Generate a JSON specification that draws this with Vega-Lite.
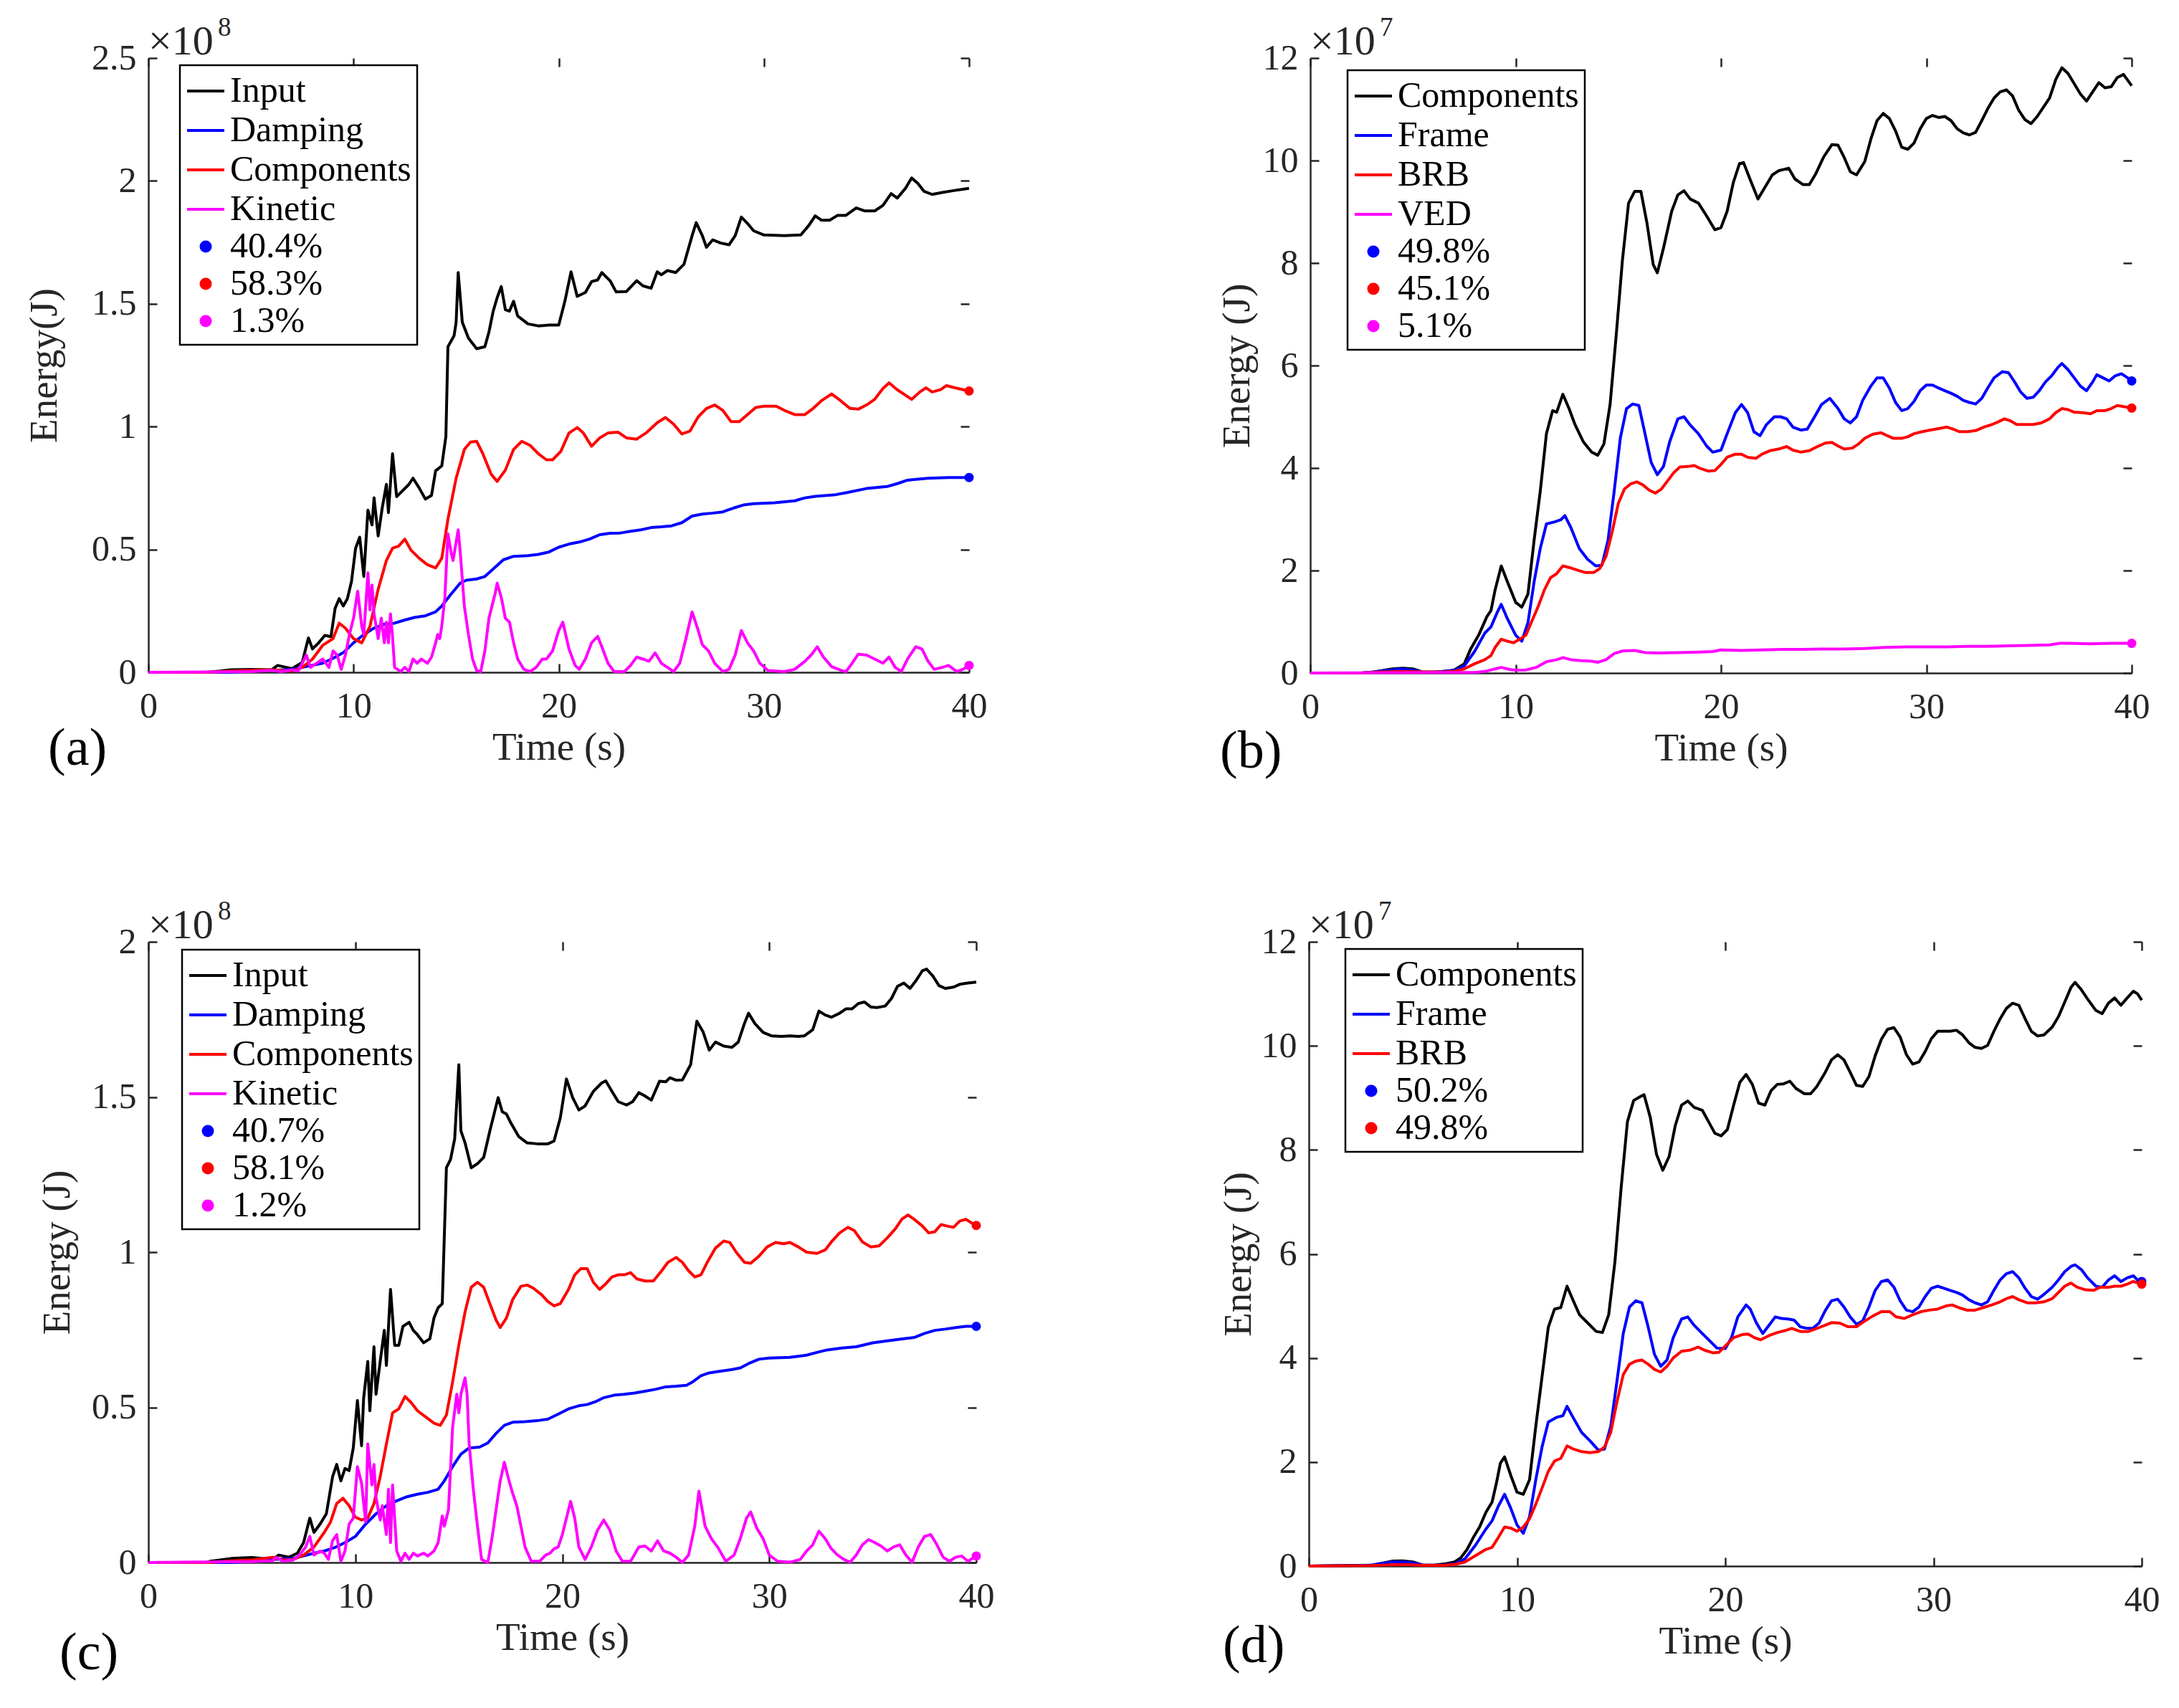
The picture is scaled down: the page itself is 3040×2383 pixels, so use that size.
{
"$schema": "https://vega.github.io/schema/vega-lite/v6.json",
"background": "white",
"padding": {"left": 34, "top": 20, "right": 10, "bottom": 10},
"spacing": 167,
"config": {
 "view": {"stroke": null},
 "font": "Liberation Serif",
 "axis": {"grid": false, "domainColor": "#262626", "domainWidth": 2.5, "gridColor": "#262626", "gridWidth": 2.5, "gridOpacity": 1, "labelFont": "Liberation Serif", "labelFontSize": 50, "labelColor": "#262626", "titleFont": "Liberation Serif", "titleFontSize": 55, "titleFontWeight": "normal", "titleColor": "#262626", "labelOverlap": false, "labelFlush": false, "labelBound": false, "ticks": false},
 "axisBottom": {"labelPadding": 22, "titlePadding": 6},
 "axisLeft": {"labelPadding": 17},
 "legend": {"labelFont": "Liberation Serif", "labelFontSize": 50, "labelColor": "black", "strokeColor": "black", "strokeWidth": 2.5, "fillColor": "white", "padding": 8, "symbolStrokeWidth": 4, "labelOffset": 6, "rowPadding": 2, "labelLimit": 0}
},
"resolve": {"scale": {"x": "independent", "y": "independent", "color": "independent", "shape": "independent", "size": "independent"}, "legend": {"color": "independent", "shape": "independent", "size": "independent"}},
"datasets": {
"aL": [
{"s":"Input","t":0,"v":0},{"s":"Input","t":2.8,"v":0},{"s":"Input","t":3.5,"v":0.005},{"s":"Input","t":4,"v":0.01},{"s":"Input","t":5,"v":0.012},{"s":"Input","t":6,"v":0.01},{"s":"Input","t":6.3,"v":0.028},{"s":"Input","t":7,"v":0.015},{"s":"Input","t":7.5,"v":0.04},{"s":"Input","t":7.8,"v":0.14},{"s":"Input","t":8,"v":0.095},{"s":"Input","t":8.3,"v":0.12},{"s":"Input","t":8.6,"v":0.15},{"s":"Input","t":8.9,"v":0.145},{"s":"Input","t":9.1,"v":0.26},{"s":"Input","t":9.3,"v":0.3},{"s":"Input","t":9.5,"v":0.27},{"s":"Input","t":9.7,"v":0.3},{"s":"Input","t":9.9,"v":0.37},{"s":"Input","t":10.1,"v":0.505},{"s":"Input","t":10.3,"v":0.55},{"s":"Input","t":10.5,"v":0.39},{"s":"Input","t":10.7,"v":0.66},{"s":"Input","t":10.9,"v":0.6},{"s":"Input","t":11,"v":0.71},{"s":"Input","t":11.2,"v":0.555},{"s":"Input","t":11.4,"v":0.67},{"s":"Input","t":11.6,"v":0.765},{"s":"Input","t":11.7,"v":0.65},{"s":"Input","t":11.9,"v":0.89},{"s":"Input","t":12.1,"v":0.715},{"s":"Input","t":12.4,"v":0.74},{"s":"Input","t":12.7,"v":0.765},{"s":"Input","t":12.9,"v":0.79},{"s":"Input","t":13.2,"v":0.75},{"s":"Input","t":13.5,"v":0.705},{"s":"Input","t":13.8,"v":0.72},{"s":"Input","t":14,"v":0.82},{"s":"Input","t":14.3,"v":0.84},{"s":"Input","t":14.5,"v":0.96},{"s":"Input","t":14.6,"v":1.325},{"s":"Input","t":14.9,"v":1.37},{"s":"Input","t":15,"v":1.425},{"s":"Input","t":15.1,"v":1.627},{"s":"Input","t":15.3,"v":1.425},{"s":"Input","t":15.6,"v":1.36},{"s":"Input","t":16,"v":1.317},{"s":"Input","t":16.4,"v":1.325},{"s":"Input","t":16.6,"v":1.385},{"s":"Input","t":16.8,"v":1.468},{"s":"Input","t":17,"v":1.525},{"s":"Input","t":17.2,"v":1.57},{"s":"Input","t":17.4,"v":1.476},{"s":"Input","t":17.6,"v":1.47},{"s":"Input","t":17.8,"v":1.51},{"s":"Input","t":18,"v":1.45},{"s":"Input","t":18.5,"v":1.418},{"s":"Input","t":19,"v":1.41},{"s":"Input","t":19.5,"v":1.413},{"s":"Input","t":20,"v":1.413},{"s":"Input","t":20.3,"v":1.51},{"s":"Input","t":20.6,"v":1.63},{"s":"Input","t":20.9,"v":1.53},{"s":"Input","t":21.3,"v":1.546},{"s":"Input","t":21.6,"v":1.59},{"s":"Input","t":21.9,"v":1.597},{"s":"Input","t":22.1,"v":1.627},{"s":"Input","t":22.5,"v":1.594},{"s":"Input","t":22.8,"v":1.548},{"s":"Input","t":23.3,"v":1.55},{"s":"Input","t":23.8,"v":1.594},{"s":"Input","t":24.1,"v":1.573},{"s":"Input","t":24.5,"v":1.563},{"s":"Input","t":24.8,"v":1.63},{"s":"Input","t":25,"v":1.618},{"s":"Input","t":25.3,"v":1.635},{"s":"Input","t":25.7,"v":1.627},{"s":"Input","t":26.1,"v":1.66},{"s":"Input","t":26.5,"v":1.777},{"s":"Input","t":26.7,"v":1.83},{"s":"Input","t":27,"v":1.777},{"s":"Input","t":27.2,"v":1.73},{"s":"Input","t":27.5,"v":1.76},{"s":"Input","t":27.9,"v":1.747},{"s":"Input","t":28.3,"v":1.74},{"s":"Input","t":28.6,"v":1.777},{"s":"Input","t":28.9,"v":1.853},{"s":"Input","t":29.2,"v":1.827},{"s":"Input","t":29.5,"v":1.797},{"s":"Input","t":30,"v":1.78},{"s":"Input","t":31,"v":1.777},{"s":"Input","t":31.8,"v":1.78},{"s":"Input","t":32.2,"v":1.82},{"s":"Input","t":32.5,"v":1.858},{"s":"Input","t":32.8,"v":1.84},{"s":"Input","t":33.2,"v":1.84},{"s":"Input","t":33.6,"v":1.86},{"s":"Input","t":34,"v":1.86},{"s":"Input","t":34.5,"v":1.89},{"s":"Input","t":34.9,"v":1.878},{"s":"Input","t":35.4,"v":1.878},{"s":"Input","t":35.8,"v":1.9},{"s":"Input","t":36.2,"v":1.948},{"s":"Input","t":36.5,"v":1.93},{"s":"Input","t":36.9,"v":1.97},{"s":"Input","t":37.2,"v":2.012},{"s":"Input","t":37.5,"v":1.99},{"s":"Input","t":37.8,"v":1.958},{"s":"Input","t":38.2,"v":1.945},{"s":"Input","t":38.7,"v":1.953},{"s":"Input","t":39.2,"v":1.96},{"s":"Input","t":40,"v":1.97},
{"s":"Damping","t":0,"v":0},{"s":"Damping","t":4,"v":0},{"s":"Damping","t":5,"v":0.005},{"s":"Damping","t":6,"v":0.008},{"s":"Damping","t":7,"v":0.012},{"s":"Damping","t":7.5,"v":0.02},{"s":"Damping","t":8.5,"v":0.037},{"s":"Damping","t":9,"v":0.057},{"s":"Damping","t":9.5,"v":0.08},{"s":"Damping","t":10,"v":0.12},{"s":"Damping","t":10.5,"v":0.154},{"s":"Damping","t":11,"v":0.18},{"s":"Damping","t":11.5,"v":0.196},{"s":"Damping","t":12,"v":0.2},{"s":"Damping","t":12.5,"v":0.213},{"s":"Damping","t":13,"v":0.224},{"s":"Damping","t":13.5,"v":0.23},{"s":"Damping","t":14,"v":0.246},{"s":"Damping","t":14.3,"v":0.27},{"s":"Damping","t":14.7,"v":0.313},{"s":"Damping","t":15.2,"v":0.363},{"s":"Damping","t":15.5,"v":0.375},{"s":"Damping","t":16,"v":0.38},{"s":"Damping","t":16.4,"v":0.39},{"s":"Damping","t":16.8,"v":0.42},{"s":"Damping","t":17.3,"v":0.458},{"s":"Damping","t":17.8,"v":0.472},{"s":"Damping","t":18.5,"v":0.475},{"s":"Damping","t":19,"v":0.48},{"s":"Damping","t":19.5,"v":0.489},{"s":"Damping","t":20,"v":0.509},{"s":"Damping","t":20.5,"v":0.522},{"s":"Damping","t":21,"v":0.53},{"s":"Damping","t":21.5,"v":0.542},{"s":"Damping","t":22,"v":0.56},{"s":"Damping","t":22.5,"v":0.566},{"s":"Damping","t":23,"v":0.567},{"s":"Damping","t":23.5,"v":0.574},{"s":"Damping","t":24,"v":0.58},{"s":"Damping","t":24.5,"v":0.589},{"s":"Damping","t":25,"v":0.592},{"s":"Damping","t":25.5,"v":0.596},{"s":"Damping","t":26,"v":0.609},{"s":"Damping","t":26.5,"v":0.636},{"s":"Damping","t":27,"v":0.644},{"s":"Damping","t":27.5,"v":0.648},{"s":"Damping","t":28,"v":0.653},{"s":"Damping","t":28.5,"v":0.668},{"s":"Damping","t":29,"v":0.681},{"s":"Damping","t":29.5,"v":0.686},{"s":"Damping","t":30.5,"v":0.69},{"s":"Damping","t":31.5,"v":0.698},{"s":"Damping","t":32,"v":0.71},{"s":"Damping","t":32.5,"v":0.716},{"s":"Damping","t":33.5,"v":0.723},{"s":"Damping","t":34,"v":0.731},{"s":"Damping","t":35,"v":0.748},{"s":"Damping","t":36,"v":0.756},{"s":"Damping","t":36.5,"v":0.768},{"s":"Damping","t":37,"v":0.782},{"s":"Damping","t":38,"v":0.79},{"s":"Damping","t":39,"v":0.793},{"s":"Damping","t":40,"v":0.793},
{"s":"Components","t":0,"v":0},{"s":"Components","t":3,"v":0},{"s":"Components","t":4,"v":0.005},{"s":"Components","t":5,"v":0.008},{"s":"Components","t":6,"v":0.01},{"s":"Components","t":7,"v":0.005},{"s":"Components","t":7.5,"v":0.02},{"s":"Components","t":8,"v":0.054},{"s":"Components","t":8.5,"v":0.11},{"s":"Components","t":9,"v":0.137},{"s":"Components","t":9.3,"v":0.2},{"s":"Components","t":9.6,"v":0.18},{"s":"Components","t":10,"v":0.137},{"s":"Components","t":10.4,"v":0.12},{"s":"Components","t":10.8,"v":0.187},{"s":"Components","t":11.2,"v":0.338},{"s":"Components","t":11.6,"v":0.455},{"s":"Components","t":11.9,"v":0.505},{"s":"Components","t":12.2,"v":0.514},{"s":"Components","t":12.5,"v":0.542},{"s":"Components","t":12.8,"v":0.497},{"s":"Components","t":13.2,"v":0.464},{"s":"Components","t":13.6,"v":0.438},{"s":"Components","t":14,"v":0.425},{"s":"Components","t":14.3,"v":0.464},{"s":"Components","t":14.6,"v":0.623},{"s":"Components","t":15,"v":0.79},{"s":"Components","t":15.4,"v":0.907},{"s":"Components","t":15.7,"v":0.937},{"s":"Components","t":16,"v":0.94},{"s":"Components","t":16.3,"v":0.89},{"s":"Components","t":16.7,"v":0.807},{"s":"Components","t":17,"v":0.777},{"s":"Components","t":17.4,"v":0.823},{"s":"Components","t":17.8,"v":0.907},{"s":"Components","t":18.2,"v":0.94},{"s":"Components","t":18.6,"v":0.924},{"s":"Components","t":19,"v":0.89},{"s":"Components","t":19.4,"v":0.865},{"s":"Components","t":19.7,"v":0.865},{"s":"Components","t":20.1,"v":0.899},{"s":"Components","t":20.5,"v":0.974},{"s":"Components","t":20.9,"v":0.996},{"s":"Components","t":21.2,"v":0.974},{"s":"Components","t":21.6,"v":0.92},{"s":"Components","t":22,"v":0.954},{"s":"Components","t":22.4,"v":0.974},{"s":"Components","t":22.9,"v":0.977},{"s":"Components","t":23.3,"v":0.954},{"s":"Components","t":23.8,"v":0.949},{"s":"Components","t":24.3,"v":0.977},{"s":"Components","t":24.8,"v":1.016},{"s":"Components","t":25.2,"v":1.037},{"s":"Components","t":25.6,"v":1.01},{"s":"Components","t":26,"v":0.97},{"s":"Components","t":26.4,"v":0.982},{"s":"Components","t":26.8,"v":1.04},{"s":"Components","t":27.2,"v":1.074},{"s":"Components","t":27.6,"v":1.088},{"s":"Components","t":28,"v":1.066},{"s":"Components","t":28.4,"v":1.02},{"s":"Components","t":28.8,"v":1.02},{"s":"Components","t":29.2,"v":1.049},{"s":"Components","t":29.6,"v":1.078},{"s":"Components","t":30,"v":1.083},{"s":"Components","t":30.6,"v":1.083},{"s":"Components","t":31,"v":1.066},{"s":"Components","t":31.5,"v":1.049},{"s":"Components","t":32,"v":1.049},{"s":"Components","t":32.4,"v":1.074},{"s":"Components","t":32.8,"v":1.105},{"s":"Components","t":33.3,"v":1.133},{"s":"Components","t":33.7,"v":1.108},{"s":"Components","t":34.2,"v":1.074},{"s":"Components","t":34.6,"v":1.071},{"s":"Components","t":35,"v":1.088},{"s":"Components","t":35.4,"v":1.111},{"s":"Components","t":35.8,"v":1.155},{"s":"Components","t":36.1,"v":1.178},{"s":"Components","t":36.5,"v":1.15},{"s":"Components","t":36.9,"v":1.128},{"s":"Components","t":37.2,"v":1.111},{"s":"Components","t":37.6,"v":1.141},{"s":"Components","t":37.9,"v":1.158},{"s":"Components","t":38.2,"v":1.141},{"s":"Components","t":38.6,"v":1.15},{"s":"Components","t":38.9,"v":1.167},{"s":"Components","t":39.3,"v":1.158},{"s":"Components","t":40,"v":1.145},
{"s":"Kinetic","t":0,"v":0},{"s":"Kinetic","t":5,"v":0.003},{"s":"Kinetic","t":6,"v":0.008},{"s":"Kinetic","t":6.5,"v":0.003},{"s":"Kinetic","t":7,"v":0.01},{"s":"Kinetic","t":7.3,"v":0.005},{"s":"Kinetic","t":7.7,"v":0.07},{"s":"Kinetic","t":7.9,"v":0.02},{"s":"Kinetic","t":8.2,"v":0.037},{"s":"Kinetic","t":8.5,"v":0.054},{"s":"Kinetic","t":8.8,"v":0.02},{"s":"Kinetic","t":9,"v":0.087},{"s":"Kinetic","t":9.2,"v":0.07},{"s":"Kinetic","t":9.4,"v":0.012},{"s":"Kinetic","t":9.6,"v":0.07},{"s":"Kinetic","t":9.8,"v":0.154},{"s":"Kinetic","t":10,"v":0.22},{"s":"Kinetic","t":10.2,"v":0.33},{"s":"Kinetic","t":10.4,"v":0.187},{"s":"Kinetic","t":10.5,"v":0.154},{"s":"Kinetic","t":10.7,"v":0.405},{"s":"Kinetic","t":10.8,"v":0.254},{"s":"Kinetic","t":10.9,"v":0.355},{"s":"Kinetic","t":11,"v":0.238},{"s":"Kinetic","t":11.2,"v":0.137},{"s":"Kinetic","t":11.35,"v":0.22},{"s":"Kinetic","t":11.5,"v":0.12},{"s":"Kinetic","t":11.6,"v":0.204},{"s":"Kinetic","t":11.7,"v":0.12},{"s":"Kinetic","t":11.8,"v":0.238},{"s":"Kinetic","t":11.9,"v":0.146},{"s":"Kinetic","t":12,"v":0.02},{"s":"Kinetic","t":12.3,"v":0.003},{"s":"Kinetic","t":12.5,"v":0.02},{"s":"Kinetic","t":12.7,"v":0.003},{"s":"Kinetic","t":12.9,"v":0.054},{"s":"Kinetic","t":13.1,"v":0.037},{"s":"Kinetic","t":13.3,"v":0.054},{"s":"Kinetic","t":13.6,"v":0.037},{"s":"Kinetic","t":13.8,"v":0.062},{"s":"Kinetic","t":14,"v":0.12},{"s":"Kinetic","t":14.1,"v":0.154},{"s":"Kinetic","t":14.2,"v":0.137},{"s":"Kinetic","t":14.3,"v":0.187},{"s":"Kinetic","t":14.45,"v":0.305},{"s":"Kinetic","t":14.6,"v":0.564},{"s":"Kinetic","t":14.75,"v":0.489},{"s":"Kinetic","t":14.85,"v":0.455},{"s":"Kinetic","t":15,"v":0.53},{"s":"Kinetic","t":15.1,"v":0.58},{"s":"Kinetic","t":15.2,"v":0.489},{"s":"Kinetic","t":15.4,"v":0.27},{"s":"Kinetic","t":15.6,"v":0.154},{"s":"Kinetic","t":15.8,"v":0.054},{"s":"Kinetic","t":16,"v":0.007},{"s":"Kinetic","t":16.2,"v":0.003},{"s":"Kinetic","t":16.4,"v":0.087},{"s":"Kinetic","t":16.6,"v":0.22},{"s":"Kinetic","t":16.9,"v":0.32},{"s":"Kinetic","t":17,"v":0.363},{"s":"Kinetic","t":17.2,"v":0.305},{"s":"Kinetic","t":17.4,"v":0.22},{"s":"Kinetic","t":17.6,"v":0.204},{"s":"Kinetic","t":17.8,"v":0.12},{"s":"Kinetic","t":18,"v":0.054},{"s":"Kinetic","t":18.3,"v":0.012},{"s":"Kinetic","t":18.6,"v":0.003},{"s":"Kinetic","t":18.9,"v":0.02},{"s":"Kinetic","t":19.2,"v":0.054},{"s":"Kinetic","t":19.4,"v":0.054},{"s":"Kinetic","t":19.7,"v":0.087},{"s":"Kinetic","t":20,"v":0.17},{"s":"Kinetic","t":20.2,"v":0.204},{"s":"Kinetic","t":20.5,"v":0.095},{"s":"Kinetic","t":20.8,"v":0.028},{"s":"Kinetic","t":21,"v":0.012},{"s":"Kinetic","t":21.3,"v":0.054},{"s":"Kinetic","t":21.6,"v":0.12},{"s":"Kinetic","t":21.9,"v":0.146},{"s":"Kinetic","t":22.1,"v":0.104},{"s":"Kinetic","t":22.4,"v":0.037},{"s":"Kinetic","t":22.7,"v":0.003},{"s":"Kinetic","t":23.2,"v":0.003},{"s":"Kinetic","t":23.5,"v":0.028},{"s":"Kinetic","t":23.8,"v":0.062},{"s":"Kinetic","t":24.1,"v":0.054},{"s":"Kinetic","t":24.4,"v":0.045},{"s":"Kinetic","t":24.7,"v":0.079},{"s":"Kinetic","t":25,"v":0.037},{"s":"Kinetic","t":25.3,"v":0.02},{"s":"Kinetic","t":25.6,"v":0.003},{"s":"Kinetic","t":25.9,"v":0.037},{"s":"Kinetic","t":26.2,"v":0.137},{"s":"Kinetic","t":26.5,"v":0.246},{"s":"Kinetic","t":26.8,"v":0.17},{"s":"Kinetic","t":27,"v":0.112},{"s":"Kinetic","t":27.3,"v":0.087},{"s":"Kinetic","t":27.6,"v":0.037},{"s":"Kinetic","t":28,"v":0.003},{"s":"Kinetic","t":28.3,"v":0.012},{"s":"Kinetic","t":28.6,"v":0.07},{"s":"Kinetic","t":28.9,"v":0.17},{"s":"Kinetic","t":29.2,"v":0.12},{"s":"Kinetic","t":29.5,"v":0.087},{"s":"Kinetic","t":29.8,"v":0.037},{"s":"Kinetic","t":30.2,"v":0.007},{"s":"Kinetic","t":31,"v":0.003},{"s":"Kinetic","t":31.5,"v":0.012},{"s":"Kinetic","t":32,"v":0.045},{"s":"Kinetic","t":32.3,"v":0.07},{"s":"Kinetic","t":32.6,"v":0.104},{"s":"Kinetic","t":32.9,"v":0.062},{"s":"Kinetic","t":33.3,"v":0.023},{"s":"Kinetic","t":33.8,"v":0.007},{"s":"Kinetic","t":34,"v":0.003},{"s":"Kinetic","t":34.3,"v":0.037},{"s":"Kinetic","t":34.6,"v":0.074},{"s":"Kinetic","t":35,"v":0.07},{"s":"Kinetic","t":35.4,"v":0.054},{"s":"Kinetic","t":35.8,"v":0.037},{"s":"Kinetic","t":36.1,"v":0.062},{"s":"Kinetic","t":36.4,"v":0.02},{"s":"Kinetic","t":36.7,"v":0.003},{"s":"Kinetic","t":37,"v":0.054},{"s":"Kinetic","t":37.4,"v":0.104},{"s":"Kinetic","t":37.7,"v":0.095},{"s":"Kinetic","t":38,"v":0.045},{"s":"Kinetic","t":38.3,"v":0.012},{"s":"Kinetic","t":38.7,"v":0.02},{"s":"Kinetic","t":39,"v":0.028},{"s":"Kinetic","t":39.4,"v":0.003},{"s":"Kinetic","t":39.7,"v":0.012},{"s":"Kinetic","t":40,"v":0.028}
],
"aP": [{"s":"40.4%","t":40,"v":0.793},{"s":"58.3%","t":40,"v":1.145},{"s":"1.3%","t":40,"v":0.028}],
"bL": [
{"s":"Components","t":0,"v":0},{"s":"Components","t":2.5,"v":0},{"s":"Components","t":3,"v":0.016},{"s":"Components","t":4,"v":0.08},{"s":"Components","t":4.5,"v":0.096},{"s":"Components","t":5,"v":0.08},{"s":"Components","t":5.5,"v":0.016},{"s":"Components","t":6,"v":0.016},{"s":"Components","t":6.5,"v":0.032},{"s":"Components","t":7,"v":0.056},{"s":"Components","t":7.5,"v":0.18},{"s":"Components","t":7.8,"v":0.46},{"s":"Components","t":8.2,"v":0.74},{"s":"Components","t":8.6,"v":1.1},{"s":"Components","t":8.8,"v":1.22},{"s":"Components","t":9,"v":1.62},{"s":"Components","t":9.3,"v":2.09},{"s":"Components","t":9.6,"v":1.78},{"s":"Components","t":10,"v":1.38},{"s":"Components","t":10.3,"v":1.285},{"s":"Components","t":10.6,"v":1.54},{"s":"Components","t":10.9,"v":2.59},{"s":"Components","t":11.2,"v":3.55},{"s":"Components","t":11.5,"v":4.67},{"s":"Components","t":11.8,"v":5.12},{"s":"Components","t":12,"v":5.09},{"s":"Components","t":12.3,"v":5.44},{"s":"Components","t":12.6,"v":5.16},{"s":"Components","t":12.9,"v":4.84},{"s":"Components","t":13.3,"v":4.51},{"s":"Components","t":13.7,"v":4.31},{"s":"Components","t":14,"v":4.25},{"s":"Components","t":14.3,"v":4.47},{"s":"Components","t":14.6,"v":5.24},{"s":"Components","t":14.9,"v":6.6},{"s":"Components","t":15.2,"v":8.05},{"s":"Components","t":15.5,"v":9.17},{"s":"Components","t":15.8,"v":9.4},{"s":"Components","t":16.1,"v":9.4},{"s":"Components","t":16.4,"v":8.77},{"s":"Components","t":16.7,"v":7.97},{"s":"Components","t":16.9,"v":7.81},{"s":"Components","t":17.2,"v":8.29},{"s":"Components","t":17.6,"v":9.01},{"s":"Components","t":17.9,"v":9.33},{"s":"Components","t":18.2,"v":9.41},{"s":"Components","t":18.5,"v":9.25},{"s":"Components","t":18.9,"v":9.17},{"s":"Components","t":19.3,"v":8.92},{"s":"Components","t":19.7,"v":8.65},{"s":"Components","t":20,"v":8.69},{"s":"Components","t":20.3,"v":9.01},{"s":"Components","t":20.6,"v":9.57},{"s":"Components","t":20.9,"v":9.94},{"s":"Components","t":21.1,"v":9.96},{"s":"Components","t":21.4,"v":9.65},{"s":"Components","t":21.8,"v":9.25},{"s":"Components","t":22.1,"v":9.45},{"s":"Components","t":22.5,"v":9.72},{"s":"Components","t":22.8,"v":9.8},{"s":"Components","t":23.1,"v":9.83},{"s":"Components","t":23.3,"v":9.85},{"s":"Components","t":23.6,"v":9.64},{"s":"Components","t":24,"v":9.53},{"s":"Components","t":24.3,"v":9.53},{"s":"Components","t":24.6,"v":9.73},{"s":"Components","t":25,"v":10.07},{"s":"Components","t":25.4,"v":10.31},{"s":"Components","t":25.7,"v":10.3},{"s":"Components","t":26,"v":10.06},{"s":"Components","t":26.3,"v":9.78},{"s":"Components","t":26.6,"v":9.72},{"s":"Components","t":27,"v":9.98},{"s":"Components","t":27.3,"v":10.42},{"s":"Components","t":27.6,"v":10.78},{"s":"Components","t":27.9,"v":10.92},{"s":"Components","t":28.2,"v":10.82},{"s":"Components","t":28.5,"v":10.58},{"s":"Components","t":28.8,"v":10.26},{"s":"Components","t":29.1,"v":10.22},{"s":"Components","t":29.4,"v":10.34},{"s":"Components","t":29.7,"v":10.62},{"s":"Components","t":30,"v":10.82},{"s":"Components","t":30.3,"v":10.88},{"s":"Components","t":30.6,"v":10.84},{"s":"Components","t":30.9,"v":10.86},{"s":"Components","t":31.2,"v":10.78},{"s":"Components","t":31.5,"v":10.62},{"s":"Components","t":31.8,"v":10.54},{"s":"Components","t":32.1,"v":10.5},{"s":"Components","t":32.4,"v":10.55},{"s":"Components","t":32.7,"v":10.78},{"s":"Components","t":33,"v":11.02},{"s":"Components","t":33.3,"v":11.22},{"s":"Components","t":33.6,"v":11.34},{"s":"Components","t":33.9,"v":11.38},{"s":"Components","t":34.2,"v":11.26},{"s":"Components","t":34.5,"v":10.98},{"s":"Components","t":34.8,"v":10.8},{"s":"Components","t":35.1,"v":10.72},{"s":"Components","t":35.4,"v":10.86},{"s":"Components","t":35.7,"v":11.04},{"s":"Components","t":36,"v":11.22},{"s":"Components","t":36.3,"v":11.58},{"s":"Components","t":36.6,"v":11.81},{"s":"Components","t":36.9,"v":11.7},{"s":"Components","t":37.2,"v":11.5},{"s":"Components","t":37.5,"v":11.3},{"s":"Components","t":37.8,"v":11.16},{"s":"Components","t":38.1,"v":11.34},{"s":"Components","t":38.4,"v":11.52},{"s":"Components","t":38.7,"v":11.42},{"s":"Components","t":39,"v":11.44},{"s":"Components","t":39.3,"v":11.62},{"s":"Components","t":39.6,"v":11.68},{"s":"Components","t":40,"v":11.46},
{"s":"Frame","t":0,"v":0},{"s":"Frame","t":2.5,"v":0},{"s":"Frame","t":3,"v":0.016},{"s":"Frame","t":4,"v":0.064},{"s":"Frame","t":4.5,"v":0.08},{"s":"Frame","t":5,"v":0.056},{"s":"Frame","t":5.5,"v":0.016},{"s":"Frame","t":6,"v":0.016},{"s":"Frame","t":7,"v":0.048},{"s":"Frame","t":7.5,"v":0.14},{"s":"Frame","t":8,"v":0.42},{"s":"Frame","t":8.5,"v":0.78},{"s":"Frame","t":8.8,"v":0.9},{"s":"Frame","t":9.1,"v":1.18},{"s":"Frame","t":9.3,"v":1.34},{"s":"Frame","t":9.6,"v":1.06},{"s":"Frame","t":10,"v":0.74},{"s":"Frame","t":10.3,"v":0.62},{"s":"Frame","t":10.6,"v":0.98},{"s":"Frame","t":10.9,"v":1.78},{"s":"Frame","t":11.2,"v":2.43},{"s":"Frame","t":11.5,"v":2.91},{"s":"Frame","t":11.9,"v":2.95},{"s":"Frame","t":12.2,"v":2.99},{"s":"Frame","t":12.4,"v":3.07},{"s":"Frame","t":12.7,"v":2.83},{"s":"Frame","t":13.1,"v":2.43},{"s":"Frame","t":13.5,"v":2.22},{"s":"Frame","t":13.9,"v":2.09},{"s":"Frame","t":14.2,"v":2.1},{"s":"Frame","t":14.5,"v":2.59},{"s":"Frame","t":14.8,"v":3.55},{"s":"Frame","t":15.1,"v":4.59},{"s":"Frame","t":15.4,"v":5.16},{"s":"Frame","t":15.7,"v":5.25},{"s":"Frame","t":16,"v":5.22},{"s":"Frame","t":16.3,"v":4.67},{"s":"Frame","t":16.6,"v":4.11},{"s":"Frame","t":16.9,"v":3.87},{"s":"Frame","t":17.2,"v":4.03},{"s":"Frame","t":17.5,"v":4.51},{"s":"Frame","t":17.9,"v":4.96},{"s":"Frame","t":18.2,"v":5},{"s":"Frame","t":18.5,"v":4.84},{"s":"Frame","t":18.9,"v":4.67},{"s":"Frame","t":19.3,"v":4.43},{"s":"Frame","t":19.6,"v":4.31},{"s":"Frame","t":20,"v":4.35},{"s":"Frame","t":20.3,"v":4.67},{"s":"Frame","t":20.7,"v":5.08},{"s":"Frame","t":21,"v":5.24},{"s":"Frame","t":21.3,"v":5.08},{"s":"Frame","t":21.6,"v":4.71},{"s":"Frame","t":21.9,"v":4.63},{"s":"Frame","t":22.2,"v":4.84},{"s":"Frame","t":22.6,"v":5},{"s":"Frame","t":22.9,"v":5},{"s":"Frame","t":23.2,"v":4.96},{"s":"Frame","t":23.5,"v":4.8},{"s":"Frame","t":23.9,"v":4.74},{"s":"Frame","t":24.2,"v":4.76},{"s":"Frame","t":24.5,"v":4.96},{"s":"Frame","t":24.9,"v":5.24},{"s":"Frame","t":25.3,"v":5.36},{"s":"Frame","t":25.7,"v":5.16},{"s":"Frame","t":26,"v":4.96},{"s":"Frame","t":26.3,"v":4.88},{"s":"Frame","t":26.6,"v":5},{"s":"Frame","t":26.9,"v":5.32},{"s":"Frame","t":27.3,"v":5.6},{"s":"Frame","t":27.6,"v":5.76},{"s":"Frame","t":27.9,"v":5.76},{"s":"Frame","t":28.2,"v":5.56},{"s":"Frame","t":28.5,"v":5.28},{"s":"Frame","t":28.8,"v":5.12},{"s":"Frame","t":29.1,"v":5.16},{"s":"Frame","t":29.4,"v":5.3},{"s":"Frame","t":29.7,"v":5.51},{"s":"Frame","t":30,"v":5.62},{"s":"Frame","t":30.3,"v":5.62},{"s":"Frame","t":30.6,"v":5.56},{"s":"Frame","t":30.9,"v":5.51},{"s":"Frame","t":31.2,"v":5.46},{"s":"Frame","t":31.5,"v":5.4},{"s":"Frame","t":31.8,"v":5.32},{"s":"Frame","t":32.1,"v":5.28},{"s":"Frame","t":32.4,"v":5.25},{"s":"Frame","t":32.7,"v":5.36},{"s":"Frame","t":33,"v":5.57},{"s":"Frame","t":33.3,"v":5.76},{"s":"Frame","t":33.7,"v":5.88},{"s":"Frame","t":34,"v":5.86},{"s":"Frame","t":34.3,"v":5.68},{"s":"Frame","t":34.6,"v":5.48},{"s":"Frame","t":34.9,"v":5.36},{"s":"Frame","t":35.2,"v":5.38},{"s":"Frame","t":35.5,"v":5.51},{"s":"Frame","t":35.8,"v":5.68},{"s":"Frame","t":36.1,"v":5.8},{"s":"Frame","t":36.4,"v":5.96},{"s":"Frame","t":36.6,"v":6.04},{"s":"Frame","t":36.9,"v":5.92},{"s":"Frame","t":37.2,"v":5.76},{"s":"Frame","t":37.5,"v":5.6},{"s":"Frame","t":37.8,"v":5.51},{"s":"Frame","t":38.1,"v":5.68},{"s":"Frame","t":38.3,"v":5.82},{"s":"Frame","t":38.6,"v":5.76},{"s":"Frame","t":38.9,"v":5.7},{"s":"Frame","t":39.2,"v":5.8},{"s":"Frame","t":39.5,"v":5.84},{"s":"Frame","t":39.8,"v":5.76},{"s":"Frame","t":40,"v":5.7},
{"s":"BRB","t":0,"v":0},{"s":"BRB","t":2.5,"v":0},{"s":"BRB","t":3.5,"v":0.02},{"s":"BRB","t":4.5,"v":0.03},{"s":"BRB","t":5.5,"v":0.02},{"s":"BRB","t":6.5,"v":0.02},{"s":"BRB","t":7,"v":0.03},{"s":"BRB","t":7.5,"v":0.08},{"s":"BRB","t":8,"v":0.18},{"s":"BRB","t":8.5,"v":0.26},{"s":"BRB","t":8.8,"v":0.34},{"s":"BRB","t":9,"v":0.5},{"s":"BRB","t":9.3,"v":0.66},{"s":"BRB","t":9.6,"v":0.62},{"s":"BRB","t":9.9,"v":0.59},{"s":"BRB","t":10.2,"v":0.66},{"s":"BRB","t":10.5,"v":0.74},{"s":"BRB","t":10.8,"v":1.02},{"s":"BRB","t":11.1,"v":1.3},{"s":"BRB","t":11.4,"v":1.62},{"s":"BRB","t":11.7,"v":1.86},{"s":"BRB","t":12,"v":1.94},{"s":"BRB","t":12.3,"v":2.09},{"s":"BRB","t":12.6,"v":2.06},{"s":"BRB","t":13,"v":2.01},{"s":"BRB","t":13.4,"v":1.96},{"s":"BRB","t":13.8,"v":1.96},{"s":"BRB","t":14.1,"v":2.04},{"s":"BRB","t":14.4,"v":2.27},{"s":"BRB","t":14.7,"v":2.75},{"s":"BRB","t":15,"v":3.31},{"s":"BRB","t":15.3,"v":3.59},{"s":"BRB","t":15.6,"v":3.69},{"s":"BRB","t":15.9,"v":3.73},{"s":"BRB","t":16.2,"v":3.67},{"s":"BRB","t":16.5,"v":3.57},{"s":"BRB","t":16.8,"v":3.51},{"s":"BRB","t":17.1,"v":3.59},{"s":"BRB","t":17.4,"v":3.75},{"s":"BRB","t":17.7,"v":3.91},{"s":"BRB","t":18,"v":4.02},{"s":"BRB","t":18.4,"v":4.03},{"s":"BRB","t":18.7,"v":4.05},{"s":"BRB","t":19,"v":3.99},{"s":"BRB","t":19.4,"v":3.94},{"s":"BRB","t":19.7,"v":3.95},{"s":"BRB","t":20,"v":4.07},{"s":"BRB","t":20.3,"v":4.21},{"s":"BRB","t":20.7,"v":4.27},{"s":"BRB","t":21,"v":4.27},{"s":"BRB","t":21.3,"v":4.21},{"s":"BRB","t":21.7,"v":4.19},{"s":"BRB","t":22,"v":4.27},{"s":"BRB","t":22.4,"v":4.34},{"s":"BRB","t":22.8,"v":4.37},{"s":"BRB","t":23.2,"v":4.42},{"s":"BRB","t":23.5,"v":4.35},{"s":"BRB","t":23.9,"v":4.31},{"s":"BRB","t":24.3,"v":4.34},{"s":"BRB","t":24.7,"v":4.42},{"s":"BRB","t":25.1,"v":4.49},{"s":"BRB","t":25.4,"v":4.5},{"s":"BRB","t":25.7,"v":4.43},{"s":"BRB","t":26,"v":4.37},{"s":"BRB","t":26.4,"v":4.39},{"s":"BRB","t":26.7,"v":4.47},{"s":"BRB","t":27,"v":4.58},{"s":"BRB","t":27.4,"v":4.66},{"s":"BRB","t":27.8,"v":4.69},{"s":"BRB","t":28.1,"v":4.63},{"s":"BRB","t":28.4,"v":4.58},{"s":"BRB","t":28.8,"v":4.58},{"s":"BRB","t":29.1,"v":4.61},{"s":"BRB","t":29.4,"v":4.67},{"s":"BRB","t":29.8,"v":4.71},{"s":"BRB","t":30.2,"v":4.74},{"s":"BRB","t":30.6,"v":4.77},{"s":"BRB","t":31,"v":4.8},{"s":"BRB","t":31.3,"v":4.76},{"s":"BRB","t":31.6,"v":4.71},{"s":"BRB","t":32,"v":4.71},{"s":"BRB","t":32.4,"v":4.73},{"s":"BRB","t":32.8,"v":4.8},{"s":"BRB","t":33.2,"v":4.85},{"s":"BRB","t":33.5,"v":4.9},{"s":"BRB","t":33.8,"v":4.96},{"s":"BRB","t":34.1,"v":4.92},{"s":"BRB","t":34.4,"v":4.85},{"s":"BRB","t":34.8,"v":4.85},{"s":"BRB","t":35.2,"v":4.85},{"s":"BRB","t":35.6,"v":4.88},{"s":"BRB","t":36,"v":4.96},{"s":"BRB","t":36.3,"v":5.08},{"s":"BRB","t":36.6,"v":5.16},{"s":"BRB","t":36.9,"v":5.14},{"s":"BRB","t":37.2,"v":5.09},{"s":"BRB","t":37.6,"v":5.08},{"s":"BRB","t":38,"v":5.06},{"s":"BRB","t":38.3,"v":5.12},{"s":"BRB","t":38.7,"v":5.12},{"s":"BRB","t":39,"v":5.16},{"s":"BRB","t":39.3,"v":5.22},{"s":"BRB","t":39.6,"v":5.2},{"s":"BRB","t":40,"v":5.17},
{"s":"VED","t":0,"v":0},{"s":"VED","t":7,"v":0.01},{"s":"VED","t":8,"v":0.01},{"s":"VED","t":8.5,"v":0.03},{"s":"VED","t":9,"v":0.08},{"s":"VED","t":9.3,"v":0.11},{"s":"VED","t":9.7,"v":0.07},{"s":"VED","t":10,"v":0.056},{"s":"VED","t":10.5,"v":0.06},{"s":"VED","t":11,"v":0.11},{"s":"VED","t":11.5,"v":0.22},{"s":"VED","t":12,"v":0.26},{"s":"VED","t":12.3,"v":0.3},{"s":"VED","t":12.7,"v":0.26},{"s":"VED","t":13.2,"v":0.24},{"s":"VED","t":13.7,"v":0.23},{"s":"VED","t":14,"v":0.21},{"s":"VED","t":14.4,"v":0.26},{"s":"VED","t":14.8,"v":0.38},{"s":"VED","t":15.2,"v":0.43},{"s":"VED","t":15.8,"v":0.44},{"s":"VED","t":16.3,"v":0.4},{"s":"VED","t":17,"v":0.39},{"s":"VED","t":18,"v":0.4},{"s":"VED","t":19,"v":0.41},{"s":"VED","t":19.6,"v":0.42},{"s":"VED","t":20,"v":0.45},{"s":"VED","t":21,"v":0.44},{"s":"VED","t":22,"v":0.45},{"s":"VED","t":23,"v":0.46},{"s":"VED","t":24,"v":0.46},{"s":"VED","t":25,"v":0.47},{"s":"VED","t":26,"v":0.47},{"s":"VED","t":27,"v":0.48},{"s":"VED","t":28,"v":0.5},{"s":"VED","t":29,"v":0.51},{"s":"VED","t":30,"v":0.51},{"s":"VED","t":31,"v":0.51},{"s":"VED","t":32,"v":0.52},{"s":"VED","t":33,"v":0.52},{"s":"VED","t":34,"v":0.53},{"s":"VED","t":35,"v":0.54},{"s":"VED","t":36,"v":0.55},{"s":"VED","t":36.5,"v":0.58},{"s":"VED","t":37,"v":0.58},{"s":"VED","t":38,"v":0.57},{"s":"VED","t":39,"v":0.58},{"s":"VED","t":40,"v":0.58}
],
"bP": [{"s":"49.8%","t":40,"v":5.7},{"s":"45.1%","t":40,"v":5.17},{"s":"5.1%","t":40,"v":0.58}],
"cL": [
{"s":"Input","t":0,"v":0},{"s":"Input","t":2.8,"v":0},{"s":"Input","t":3,"v":0.004},{"s":"Input","t":4,"v":0.013},{"s":"Input","t":5,"v":0.016},{"s":"Input","t":6,"v":0.01},{"s":"Input","t":6.3,"v":0.024},{"s":"Input","t":6.8,"v":0.017},{"s":"Input","t":7.2,"v":0.03},{"s":"Input","t":7.5,"v":0.064},{"s":"Input","t":7.8,"v":0.143},{"s":"Input","t":8,"v":0.097},{"s":"Input","t":8.3,"v":0.124},{"s":"Input","t":8.6,"v":0.157},{"s":"Input","t":8.9,"v":0.276},{"s":"Input","t":9.1,"v":0.316},{"s":"Input","t":9.3,"v":0.263},{"s":"Input","t":9.5,"v":0.303},{"s":"Input","t":9.7,"v":0.296},{"s":"Input","t":9.9,"v":0.369},{"s":"Input","t":10.1,"v":0.522},{"s":"Input","t":10.3,"v":0.376},{"s":"Input","t":10.4,"v":0.529},{"s":"Input","t":10.6,"v":0.648},{"s":"Input","t":10.7,"v":0.489},{"s":"Input","t":10.9,"v":0.695},{"s":"Input","t":11,"v":0.542},{"s":"Input","t":11.2,"v":0.648},{"s":"Input","t":11.4,"v":0.748},{"s":"Input","t":11.5,"v":0.635},{"s":"Input","t":11.7,"v":0.88},{"s":"Input","t":11.9,"v":0.7},{"s":"Input","t":12.1,"v":0.7},{"s":"Input","t":12.3,"v":0.761},{"s":"Input","t":12.6,"v":0.774},{"s":"Input","t":12.8,"v":0.748},{"s":"Input","t":13,"v":0.734},{"s":"Input","t":13.3,"v":0.708},{"s":"Input","t":13.6,"v":0.721},{"s":"Input","t":13.8,"v":0.788},{"s":"Input","t":14,"v":0.821},{"s":"Input","t":14.2,"v":0.834},{"s":"Input","t":14.4,"v":1.272},{"s":"Input","t":14.6,"v":1.299},{"s":"Input","t":14.8,"v":1.365},{"s":"Input","t":15,"v":1.604},{"s":"Input","t":15.1,"v":1.391},{"s":"Input","t":15.3,"v":1.352},{"s":"Input","t":15.6,"v":1.272},{"s":"Input","t":15.9,"v":1.285},{"s":"Input","t":16.2,"v":1.305},{"s":"Input","t":16.5,"v":1.391},{"s":"Input","t":16.9,"v":1.498},{"s":"Input","t":17.1,"v":1.452},{"s":"Input","t":17.3,"v":1.445},{"s":"Input","t":17.5,"v":1.418},{"s":"Input","t":17.9,"v":1.372},{"s":"Input","t":18.3,"v":1.352},{"s":"Input","t":18.8,"v":1.349},{"s":"Input","t":19.3,"v":1.349},{"s":"Input","t":19.6,"v":1.358},{"s":"Input","t":19.9,"v":1.432},{"s":"Input","t":20.2,"v":1.558},{"s":"Input","t":20.5,"v":1.498},{"s":"Input","t":20.8,"v":1.458},{"s":"Input","t":21.1,"v":1.471},{"s":"Input","t":21.5,"v":1.518},{"s":"Input","t":21.9,"v":1.545},{"s":"Input","t":22.1,"v":1.552},{"s":"Input","t":22.4,"v":1.518},{"s":"Input","t":22.7,"v":1.485},{"s":"Input","t":23.1,"v":1.474},{"s":"Input","t":23.4,"v":1.485},{"s":"Input","t":23.7,"v":1.514},{"s":"Input","t":24,"v":1.503},{"s":"Input","t":24.3,"v":1.49},{"s":"Input","t":24.7,"v":1.551},{"s":"Input","t":25,"v":1.549},{"s":"Input","t":25.2,"v":1.562},{"s":"Input","t":25.5,"v":1.554},{"s":"Input","t":25.8,"v":1.555},{"s":"Input","t":26.2,"v":1.604},{"s":"Input","t":26.5,"v":1.744},{"s":"Input","t":26.8,"v":1.71},{"s":"Input","t":27.1,"v":1.651},{"s":"Input","t":27.4,"v":1.677},{"s":"Input","t":27.8,"v":1.664},{"s":"Input","t":28.2,"v":1.66},{"s":"Input","t":28.5,"v":1.677},{"s":"Input","t":28.8,"v":1.737},{"s":"Input","t":29,"v":1.77},{"s":"Input","t":29.3,"v":1.737},{"s":"Input","t":29.7,"v":1.708},{"s":"Input","t":30.1,"v":1.697},{"s":"Input","t":30.6,"v":1.695},{"s":"Input","t":31,"v":1.697},{"s":"Input","t":31.4,"v":1.695},{"s":"Input","t":31.7,"v":1.697},{"s":"Input","t":32.1,"v":1.717},{"s":"Input","t":32.4,"v":1.777},{"s":"Input","t":32.7,"v":1.764},{"s":"Input","t":33,"v":1.757},{"s":"Input","t":33.4,"v":1.77},{"s":"Input","t":33.7,"v":1.784},{"s":"Input","t":34,"v":1.784},{"s":"Input","t":34.3,"v":1.801},{"s":"Input","t":34.6,"v":1.806},{"s":"Input","t":34.9,"v":1.79},{"s":"Input","t":35.2,"v":1.788},{"s":"Input","t":35.6,"v":1.793},{"s":"Input","t":35.9,"v":1.817},{"s":"Input","t":36.2,"v":1.857},{"s":"Input","t":36.5,"v":1.867},{"s":"Input","t":36.8,"v":1.85},{"s":"Input","t":37.1,"v":1.876},{"s":"Input","t":37.4,"v":1.907},{"s":"Input","t":37.6,"v":1.912},{"s":"Input","t":37.9,"v":1.89},{"s":"Input","t":38.2,"v":1.859},{"s":"Input","t":38.5,"v":1.85},{"s":"Input","t":38.9,"v":1.854},{"s":"Input","t":39.2,"v":1.863},{"s":"Input","t":39.6,"v":1.867},{"s":"Input","t":40,"v":1.87},
{"s":"Damping","t":0,"v":0},{"s":"Damping","t":4,"v":0},{"s":"Damping","t":5,"v":0.004},{"s":"Damping","t":6,"v":0.01},{"s":"Damping","t":7,"v":0.013},{"s":"Damping","t":7.5,"v":0.021},{"s":"Damping","t":8,"v":0.03},{"s":"Damping","t":8.5,"v":0.037},{"s":"Damping","t":9,"v":0.048},{"s":"Damping","t":9.5,"v":0.064},{"s":"Damping","t":10,"v":0.084},{"s":"Damping","t":10.5,"v":0.124},{"s":"Damping","t":11,"v":0.157},{"s":"Damping","t":11.5,"v":0.183},{"s":"Damping","t":12,"v":0.199},{"s":"Damping","t":12.5,"v":0.212},{"s":"Damping","t":13,"v":0.22},{"s":"Damping","t":13.5,"v":0.226},{"s":"Damping","t":14,"v":0.236},{"s":"Damping","t":14.3,"v":0.263},{"s":"Damping","t":14.7,"v":0.309},{"s":"Damping","t":15.1,"v":0.349},{"s":"Damping","t":15.5,"v":0.369},{"s":"Damping","t":16,"v":0.372},{"s":"Damping","t":16.4,"v":0.385},{"s":"Damping","t":16.8,"v":0.416},{"s":"Damping","t":17.2,"v":0.442},{"s":"Damping","t":17.6,"v":0.452},{"s":"Damping","t":18.2,"v":0.454},{"s":"Damping","t":18.8,"v":0.457},{"s":"Damping","t":19.3,"v":0.462},{"s":"Damping","t":19.8,"v":0.478},{"s":"Damping","t":20.3,"v":0.495},{"s":"Damping","t":20.8,"v":0.505},{"s":"Damping","t":21.2,"v":0.509},{"s":"Damping","t":21.6,"v":0.518},{"s":"Damping","t":22,"v":0.531},{"s":"Damping","t":22.5,"v":0.539},{"s":"Damping","t":23,"v":0.542},{"s":"Damping","t":23.5,"v":0.546},{"s":"Damping","t":24,"v":0.552},{"s":"Damping","t":24.5,"v":0.558},{"s":"Damping","t":25,"v":0.566},{"s":"Damping","t":25.5,"v":0.568},{"s":"Damping","t":26,"v":0.571},{"s":"Damping","t":26.3,"v":0.582},{"s":"Damping","t":26.7,"v":0.602},{"s":"Damping","t":27.1,"v":0.611},{"s":"Damping","t":27.6,"v":0.616},{"s":"Damping","t":28.2,"v":0.622},{"s":"Damping","t":28.6,"v":0.627},{"s":"Damping","t":29,"v":0.641},{"s":"Damping","t":29.5,"v":0.655},{"s":"Damping","t":30,"v":0.659},{"s":"Damping","t":31,"v":0.661},{"s":"Damping","t":31.8,"v":0.668},{"s":"Damping","t":32.3,"v":0.677},{"s":"Damping","t":32.8,"v":0.685},{"s":"Damping","t":33.5,"v":0.691},{"s":"Damping","t":34.2,"v":0.695},{"s":"Damping","t":35,"v":0.708},{"s":"Damping","t":35.7,"v":0.714},{"s":"Damping","t":36.5,"v":0.721},{"s":"Damping","t":37,"v":0.725},{"s":"Damping","t":37.5,"v":0.738},{"s":"Damping","t":38,"v":0.748},{"s":"Damping","t":38.5,"v":0.752},{"s":"Damping","t":39,"v":0.757},{"s":"Damping","t":39.5,"v":0.761},{"s":"Damping","t":40,"v":0.761},
{"s":"Components","t":0,"v":0},{"s":"Components","t":3,"v":0},{"s":"Components","t":4,"v":0.005},{"s":"Components","t":5,"v":0.008},{"s":"Components","t":6,"v":0.017},{"s":"Components","t":6.5,"v":0.008},{"s":"Components","t":7,"v":0.01},{"s":"Components","t":7.5,"v":0.024},{"s":"Components","t":8,"v":0.05},{"s":"Components","t":8.5,"v":0.097},{"s":"Components","t":8.8,"v":0.13},{"s":"Components","t":9.1,"v":0.19},{"s":"Components","t":9.4,"v":0.207},{"s":"Components","t":9.7,"v":0.183},{"s":"Components","t":10,"v":0.146},{"s":"Components","t":10.3,"v":0.137},{"s":"Components","t":10.6,"v":0.143},{"s":"Components","t":10.9,"v":0.19},{"s":"Components","t":11.2,"v":0.276},{"s":"Components","t":11.5,"v":0.382},{"s":"Components","t":11.8,"v":0.482},{"s":"Components","t":12.1,"v":0.495},{"s":"Components","t":12.4,"v":0.535},{"s":"Components","t":12.7,"v":0.515},{"s":"Components","t":13,"v":0.489},{"s":"Components","t":13.4,"v":0.469},{"s":"Components","t":13.8,"v":0.449},{"s":"Components","t":14.1,"v":0.442},{"s":"Components","t":14.4,"v":0.475},{"s":"Components","t":14.7,"v":0.582},{"s":"Components","t":15,"v":0.701},{"s":"Components","t":15.3,"v":0.807},{"s":"Components","t":15.6,"v":0.887},{"s":"Components","t":15.9,"v":0.903},{"s":"Components","t":16.2,"v":0.887},{"s":"Components","t":16.5,"v":0.834},{"s":"Components","t":16.8,"v":0.781},{"s":"Components","t":17,"v":0.757},{"s":"Components","t":17.3,"v":0.788},{"s":"Components","t":17.6,"v":0.847},{"s":"Components","t":18,"v":0.89},{"s":"Components","t":18.3,"v":0.894},{"s":"Components","t":18.6,"v":0.884},{"s":"Components","t":19,"v":0.863},{"s":"Components","t":19.3,"v":0.841},{"s":"Components","t":19.6,"v":0.827},{"s":"Components","t":19.9,"v":0.834},{"s":"Components","t":20.3,"v":0.88},{"s":"Components","t":20.6,"v":0.927},{"s":"Components","t":20.9,"v":0.947},{"s":"Components","t":21.2,"v":0.947},{"s":"Components","t":21.5,"v":0.903},{"s":"Components","t":21.8,"v":0.88},{"s":"Components","t":22.1,"v":0.898},{"s":"Components","t":22.4,"v":0.92},{"s":"Components","t":22.7,"v":0.927},{"s":"Components","t":23,"v":0.927},{"s":"Components","t":23.3,"v":0.934},{"s":"Components","t":23.6,"v":0.914},{"s":"Components","t":24,"v":0.907},{"s":"Components","t":24.4,"v":0.907},{"s":"Components","t":24.8,"v":0.94},{"s":"Components","t":25.1,"v":0.967},{"s":"Components","t":25.5,"v":0.983},{"s":"Components","t":25.8,"v":0.967},{"s":"Components","t":26.1,"v":0.94},{"s":"Components","t":26.4,"v":0.92},{"s":"Components","t":26.7,"v":0.927},{"s":"Components","t":27,"v":0.967},{"s":"Components","t":27.4,"v":1.013},{"s":"Components","t":27.8,"v":1.036},{"s":"Components","t":28.1,"v":1.031},{"s":"Components","t":28.4,"v":1},{"s":"Components","t":28.8,"v":0.967},{"s":"Components","t":29.1,"v":0.964},{"s":"Components","t":29.5,"v":0.987},{"s":"Components","t":29.9,"v":1.017},{"s":"Components","t":30.3,"v":1.031},{"s":"Components","t":30.7,"v":1.027},{"s":"Components","t":31,"v":1.031},{"s":"Components","t":31.4,"v":1.017},{"s":"Components","t":31.8,"v":1},{"s":"Components","t":32.3,"v":0.996},{"s":"Components","t":32.7,"v":1.007},{"s":"Components","t":33,"v":1.033},{"s":"Components","t":33.4,"v":1.062},{"s":"Components","t":33.8,"v":1.08},{"s":"Components","t":34.1,"v":1.07},{"s":"Components","t":34.5,"v":1.033},{"s":"Components","t":34.9,"v":1.017},{"s":"Components","t":35.3,"v":1.02},{"s":"Components","t":35.7,"v":1.046},{"s":"Components","t":36.1,"v":1.076},{"s":"Components","t":36.4,"v":1.106},{"s":"Components","t":36.7,"v":1.12},{"s":"Components","t":37,"v":1.106},{"s":"Components","t":37.4,"v":1.084},{"s":"Components","t":37.7,"v":1.062},{"s":"Components","t":38,"v":1.066},{"s":"Components","t":38.3,"v":1.089},{"s":"Components","t":38.6,"v":1.084},{"s":"Components","t":38.9,"v":1.08},{"s":"Components","t":39.2,"v":1.1},{"s":"Components","t":39.5,"v":1.106},{"s":"Components","t":39.8,"v":1.093},{"s":"Components","t":40,"v":1.086},
{"s":"Kinetic","t":0,"v":0},{"s":"Kinetic","t":5,"v":0.003},{"s":"Kinetic","t":6,"v":0.006},{"s":"Kinetic","t":6.2,"v":0.017},{"s":"Kinetic","t":6.5,"v":0.004},{"s":"Kinetic","t":7,"v":0.008},{"s":"Kinetic","t":7.3,"v":0.024},{"s":"Kinetic","t":7.6,"v":0.05},{"s":"Kinetic","t":7.8,"v":0.084},{"s":"Kinetic","t":8,"v":0.024},{"s":"Kinetic","t":8.3,"v":0.037},{"s":"Kinetic","t":8.5,"v":0.03},{"s":"Kinetic","t":8.7,"v":0.01},{"s":"Kinetic","t":8.9,"v":0.07},{"s":"Kinetic","t":9.1,"v":0.09},{"s":"Kinetic","t":9.3,"v":0.004},{"s":"Kinetic","t":9.5,"v":0.037},{"s":"Kinetic","t":9.7,"v":0.124},{"s":"Kinetic","t":9.9,"v":0.143},{"s":"Kinetic","t":10.1,"v":0.309},{"s":"Kinetic","t":10.3,"v":0.256},{"s":"Kinetic","t":10.5,"v":0.13},{"s":"Kinetic","t":10.6,"v":0.382},{"s":"Kinetic","t":10.8,"v":0.25},{"s":"Kinetic","t":10.9,"v":0.316},{"s":"Kinetic","t":11,"v":0.21},{"s":"Kinetic","t":11.2,"v":0.137},{"s":"Kinetic","t":11.3,"v":0.183},{"s":"Kinetic","t":11.5,"v":0.09},{"s":"Kinetic","t":11.6,"v":0.236},{"s":"Kinetic","t":11.7,"v":0.064},{"s":"Kinetic","t":11.8,"v":0.25},{"s":"Kinetic","t":12,"v":0.037},{"s":"Kinetic","t":12.2,"v":0.004},{"s":"Kinetic","t":12.4,"v":0.03},{"s":"Kinetic","t":12.6,"v":0.01},{"s":"Kinetic","t":12.8,"v":0.03},{"s":"Kinetic","t":13,"v":0.021},{"s":"Kinetic","t":13.3,"v":0.03},{"s":"Kinetic","t":13.5,"v":0.021},{"s":"Kinetic","t":13.8,"v":0.037},{"s":"Kinetic","t":14,"v":0.064},{"s":"Kinetic","t":14.2,"v":0.15},{"s":"Kinetic","t":14.3,"v":0.117},{"s":"Kinetic","t":14.5,"v":0.17},{"s":"Kinetic","t":14.7,"v":0.436},{"s":"Kinetic","t":14.9,"v":0.542},{"s":"Kinetic","t":15,"v":0.482},{"s":"Kinetic","t":15.1,"v":0.542},{"s":"Kinetic","t":15.3,"v":0.595},{"s":"Kinetic","t":15.4,"v":0.542},{"s":"Kinetic","t":15.5,"v":0.382},{"s":"Kinetic","t":15.7,"v":0.236},{"s":"Kinetic","t":15.9,"v":0.117},{"s":"Kinetic","t":16.1,"v":0.01},{"s":"Kinetic","t":16.4,"v":0},{"s":"Kinetic","t":16.6,"v":0.077},{"s":"Kinetic","t":16.8,"v":0.17},{"s":"Kinetic","t":17,"v":0.263},{"s":"Kinetic","t":17.2,"v":0.323},{"s":"Kinetic","t":17.4,"v":0.27},{"s":"Kinetic","t":17.6,"v":0.223},{"s":"Kinetic","t":17.8,"v":0.183},{"s":"Kinetic","t":18,"v":0.117},{"s":"Kinetic","t":18.2,"v":0.05},{"s":"Kinetic","t":18.5,"v":0.004},{"s":"Kinetic","t":18.9,"v":0.004},{"s":"Kinetic","t":19.2,"v":0.024},{"s":"Kinetic","t":19.4,"v":0.03},{"s":"Kinetic","t":19.6,"v":0.044},{"s":"Kinetic","t":19.8,"v":0.05},{"s":"Kinetic","t":20,"v":0.09},{"s":"Kinetic","t":20.2,"v":0.143},{"s":"Kinetic","t":20.4,"v":0.197},{"s":"Kinetic","t":20.6,"v":0.143},{"s":"Kinetic","t":20.8,"v":0.05},{"s":"Kinetic","t":21.1,"v":0.01},{"s":"Kinetic","t":21.4,"v":0.05},{"s":"Kinetic","t":21.7,"v":0.104},{"s":"Kinetic","t":22,"v":0.137},{"s":"Kinetic","t":22.3,"v":0.104},{"s":"Kinetic","t":22.6,"v":0.037},{"s":"Kinetic","t":22.9,"v":0.004},{"s":"Kinetic","t":23.3,"v":0.004},{"s":"Kinetic","t":23.7,"v":0.05},{"s":"Kinetic","t":24,"v":0.053},{"s":"Kinetic","t":24.3,"v":0.037},{"s":"Kinetic","t":24.6,"v":0.07},{"s":"Kinetic","t":24.9,"v":0.037},{"s":"Kinetic","t":25.2,"v":0.03},{"s":"Kinetic","t":25.5,"v":0.017},{"s":"Kinetic","t":25.8,"v":0},{"s":"Kinetic","t":26.1,"v":0.024},{"s":"Kinetic","t":26.4,"v":0.117},{"s":"Kinetic","t":26.6,"v":0.23},{"s":"Kinetic","t":26.9,"v":0.117},{"s":"Kinetic","t":27.2,"v":0.077},{"s":"Kinetic","t":27.5,"v":0.05},{"s":"Kinetic","t":27.9,"v":0.004},{"s":"Kinetic","t":28.3,"v":0.024},{"s":"Kinetic","t":28.6,"v":0.077},{"s":"Kinetic","t":28.9,"v":0.143},{"s":"Kinetic","t":29.1,"v":0.163},{"s":"Kinetic","t":29.4,"v":0.11},{"s":"Kinetic","t":29.7,"v":0.077},{"s":"Kinetic","t":30,"v":0.024},{"s":"Kinetic","t":30.4,"v":0.004},{"s":"Kinetic","t":31,"v":0.001},{"s":"Kinetic","t":31.5,"v":0.01},{"s":"Kinetic","t":31.8,"v":0.037},{"s":"Kinetic","t":32.1,"v":0.057},{"s":"Kinetic","t":32.4,"v":0.101},{"s":"Kinetic","t":32.7,"v":0.077},{"s":"Kinetic","t":33,"v":0.044},{"s":"Kinetic","t":33.3,"v":0.024},{"s":"Kinetic","t":33.6,"v":0.01},{"s":"Kinetic","t":33.9,"v":0.001},{"s":"Kinetic","t":34.2,"v":0.024},{"s":"Kinetic","t":34.5,"v":0.057},{"s":"Kinetic","t":34.8,"v":0.074},{"s":"Kinetic","t":35.1,"v":0.064},{"s":"Kinetic","t":35.4,"v":0.053},{"s":"Kinetic","t":35.7,"v":0.037},{"s":"Kinetic","t":36,"v":0.05},{"s":"Kinetic","t":36.3,"v":0.057},{"s":"Kinetic","t":36.6,"v":0.024},{"s":"Kinetic","t":36.9,"v":0.001},{"s":"Kinetic","t":37.2,"v":0.05},{"s":"Kinetic","t":37.5,"v":0.084},{"s":"Kinetic","t":37.8,"v":0.09},{"s":"Kinetic","t":38.1,"v":0.057},{"s":"Kinetic","t":38.4,"v":0.017},{"s":"Kinetic","t":38.7,"v":0.004},{"s":"Kinetic","t":39,"v":0.017},{"s":"Kinetic","t":39.3,"v":0.021},{"s":"Kinetic","t":39.6,"v":0.004},{"s":"Kinetic","t":40,"v":0.021}
],
"cP": [{"s":"40.7%","t":40,"v":0.761},{"s":"58.1%","t":40,"v":1.086},{"s":"1.2%","t":40,"v":0.021}],
"dL": [
{"s":"Components","t":0,"v":0},{"s":"Components","t":3,"v":0.016},{"s":"Components","t":4,"v":0.095},{"s":"Components","t":4.5,"v":0.1},{"s":"Components","t":5,"v":0.08},{"s":"Components","t":5.5,"v":0.016},{"s":"Components","t":6,"v":0.016},{"s":"Components","t":6.5,"v":0.04},{"s":"Components","t":7,"v":0.08},{"s":"Components","t":7.3,"v":0.16},{"s":"Components","t":7.6,"v":0.32},{"s":"Components","t":7.9,"v":0.55},{"s":"Components","t":8.2,"v":0.75},{"s":"Components","t":8.5,"v":1.03},{"s":"Components","t":8.8,"v":1.23},{"s":"Components","t":9,"v":1.58},{"s":"Components","t":9.2,"v":1.98},{"s":"Components","t":9.4,"v":2.1},{"s":"Components","t":9.7,"v":1.74},{"s":"Components","t":10,"v":1.42},{"s":"Components","t":10.3,"v":1.38},{"s":"Components","t":10.6,"v":1.66},{"s":"Components","t":10.9,"v":2.69},{"s":"Components","t":11.2,"v":3.64},{"s":"Components","t":11.5,"v":4.59},{"s":"Components","t":11.8,"v":4.94},{"s":"Components","t":12.1,"v":4.97},{"s":"Components","t":12.4,"v":5.38},{"s":"Components","t":12.7,"v":5.1},{"s":"Components","t":13,"v":4.83},{"s":"Components","t":13.4,"v":4.67},{"s":"Components","t":13.8,"v":4.51},{"s":"Components","t":14.1,"v":4.49},{"s":"Components","t":14.4,"v":4.83},{"s":"Components","t":14.7,"v":5.85},{"s":"Components","t":15,"v":7.28},{"s":"Components","t":15.3,"v":8.54},{"s":"Components","t":15.6,"v":8.95},{"s":"Components","t":15.9,"v":9.02},{"s":"Components","t":16.1,"v":9.06},{"s":"Components","t":16.4,"v":8.62},{"s":"Components","t":16.7,"v":7.91},{"s":"Components","t":17,"v":7.61},{"s":"Components","t":17.3,"v":7.87},{"s":"Components","t":17.6,"v":8.47},{"s":"Components","t":17.9,"v":8.86},{"s":"Components","t":18.2,"v":8.94},{"s":"Components","t":18.5,"v":8.82},{"s":"Components","t":18.9,"v":8.76},{"s":"Components","t":19.2,"v":8.54},{"s":"Components","t":19.5,"v":8.32},{"s":"Components","t":19.8,"v":8.27},{"s":"Components","t":20.1,"v":8.39},{"s":"Components","t":20.4,"v":8.86},{"s":"Components","t":20.7,"v":9.3},{"s":"Components","t":21,"v":9.45},{"s":"Components","t":21.3,"v":9.26},{"s":"Components","t":21.6,"v":8.9},{"s":"Components","t":21.9,"v":8.86},{"s":"Components","t":22.2,"v":9.14},{"s":"Components","t":22.5,"v":9.26},{"s":"Components","t":22.8,"v":9.27},{"s":"Components","t":23.1,"v":9.32},{"s":"Components","t":23.4,"v":9.18},{"s":"Components","t":23.8,"v":9.08},{"s":"Components","t":24.1,"v":9.08},{"s":"Components","t":24.4,"v":9.22},{"s":"Components","t":24.8,"v":9.49},{"s":"Components","t":25.1,"v":9.73},{"s":"Components","t":25.4,"v":9.83},{"s":"Components","t":25.7,"v":9.73},{"s":"Components","t":26,"v":9.49},{"s":"Components","t":26.3,"v":9.24},{"s":"Components","t":26.6,"v":9.22},{"s":"Components","t":26.9,"v":9.41},{"s":"Components","t":27.2,"v":9.81},{"s":"Components","t":27.5,"v":10.13},{"s":"Components","t":27.8,"v":10.32},{"s":"Components","t":28.1,"v":10.35},{"s":"Components","t":28.4,"v":10.17},{"s":"Components","t":28.7,"v":9.83},{"s":"Components","t":29,"v":9.65},{"s":"Components","t":29.3,"v":9.69},{"s":"Components","t":29.6,"v":9.89},{"s":"Components","t":29.9,"v":10.14},{"s":"Components","t":30.2,"v":10.28},{"s":"Components","t":30.5,"v":10.28},{"s":"Components","t":30.8,"v":10.28},{"s":"Components","t":31.1,"v":10.3},{"s":"Components","t":31.4,"v":10.21},{"s":"Components","t":31.7,"v":10.06},{"s":"Components","t":32,"v":9.97},{"s":"Components","t":32.3,"v":9.95},{"s":"Components","t":32.6,"v":10.01},{"s":"Components","t":32.9,"v":10.28},{"s":"Components","t":33.2,"v":10.52},{"s":"Components","t":33.5,"v":10.72},{"s":"Components","t":33.8,"v":10.82},{"s":"Components","t":34.1,"v":10.78},{"s":"Components","t":34.4,"v":10.52},{"s":"Components","t":34.7,"v":10.28},{"s":"Components","t":35,"v":10.19},{"s":"Components","t":35.3,"v":10.21},{"s":"Components","t":35.7,"v":10.36},{"s":"Components","t":36,"v":10.56},{"s":"Components","t":36.3,"v":10.84},{"s":"Components","t":36.6,"v":11.12},{"s":"Components","t":36.8,"v":11.22},{"s":"Components","t":37.1,"v":11.08},{"s":"Components","t":37.4,"v":10.9},{"s":"Components","t":37.8,"v":10.68},{"s":"Components","t":38.1,"v":10.62},{"s":"Components","t":38.4,"v":10.82},{"s":"Components","t":38.7,"v":10.92},{"s":"Components","t":39,"v":10.78},{"s":"Components","t":39.3,"v":10.92},{"s":"Components","t":39.6,"v":11.05},{"s":"Components","t":39.8,"v":11},{"s":"Components","t":40,"v":10.88},
{"s":"Frame","t":0,"v":0},{"s":"Frame","t":3,"v":0.016},{"s":"Frame","t":4,"v":0.08},{"s":"Frame","t":4.5,"v":0.08},{"s":"Frame","t":5,"v":0.063},{"s":"Frame","t":5.5,"v":0.016},{"s":"Frame","t":6.5,"v":0.02},{"s":"Frame","t":7,"v":0.04},{"s":"Frame","t":7.5,"v":0.14},{"s":"Frame","t":8,"v":0.4},{"s":"Frame","t":8.5,"v":0.71},{"s":"Frame","t":8.8,"v":0.87},{"s":"Frame","t":9.1,"v":1.15},{"s":"Frame","t":9.4,"v":1.38},{"s":"Frame","t":9.7,"v":1.11},{"s":"Frame","t":10,"v":0.79},{"s":"Frame","t":10.3,"v":0.63},{"s":"Frame","t":10.6,"v":0.95},{"s":"Frame","t":10.9,"v":1.66},{"s":"Frame","t":11.2,"v":2.29},{"s":"Frame","t":11.5,"v":2.77},{"s":"Frame","t":11.9,"v":2.86},{"s":"Frame","t":12.2,"v":2.89},{"s":"Frame","t":12.4,"v":3.07},{"s":"Frame","t":12.7,"v":2.85},{"s":"Frame","t":13.1,"v":2.57},{"s":"Frame","t":13.5,"v":2.41},{"s":"Frame","t":13.9,"v":2.23},{"s":"Frame","t":14.2,"v":2.25},{"s":"Frame","t":14.5,"v":2.69},{"s":"Frame","t":14.8,"v":3.56},{"s":"Frame","t":15.1,"v":4.47},{"s":"Frame","t":15.4,"v":4.98},{"s":"Frame","t":15.7,"v":5.1},{"s":"Frame","t":16,"v":5.06},{"s":"Frame","t":16.3,"v":4.59},{"s":"Frame","t":16.6,"v":4.07},{"s":"Frame","t":16.9,"v":3.84},{"s":"Frame","t":17.2,"v":3.96},{"s":"Frame","t":17.5,"v":4.39},{"s":"Frame","t":17.9,"v":4.75},{"s":"Frame","t":18.2,"v":4.79},{"s":"Frame","t":18.5,"v":4.63},{"s":"Frame","t":18.9,"v":4.47},{"s":"Frame","t":19.3,"v":4.31},{"s":"Frame","t":19.6,"v":4.19},{"s":"Frame","t":20,"v":4.18},{"s":"Frame","t":20.3,"v":4.39},{"s":"Frame","t":20.6,"v":4.79},{"s":"Frame","t":21,"v":5.02},{"s":"Frame","t":21.2,"v":4.94},{"s":"Frame","t":21.5,"v":4.67},{"s":"Frame","t":21.8,"v":4.47},{"s":"Frame","t":22.1,"v":4.63},{"s":"Frame","t":22.4,"v":4.79},{"s":"Frame","t":22.7,"v":4.76},{"s":"Frame","t":23,"v":4.75},{"s":"Frame","t":23.3,"v":4.73},{"s":"Frame","t":23.6,"v":4.6},{"s":"Frame","t":23.9,"v":4.57},{"s":"Frame","t":24.2,"v":4.57},{"s":"Frame","t":24.5,"v":4.67},{"s":"Frame","t":24.8,"v":4.91},{"s":"Frame","t":25.1,"v":5.1},{"s":"Frame","t":25.4,"v":5.13},{"s":"Frame","t":25.7,"v":4.98},{"s":"Frame","t":26,"v":4.79},{"s":"Frame","t":26.3,"v":4.65},{"s":"Frame","t":26.6,"v":4.71},{"s":"Frame","t":26.9,"v":4.98},{"s":"Frame","t":27.2,"v":5.3},{"s":"Frame","t":27.5,"v":5.47},{"s":"Frame","t":27.8,"v":5.5},{"s":"Frame","t":28.1,"v":5.36},{"s":"Frame","t":28.4,"v":5.1},{"s":"Frame","t":28.7,"v":4.92},{"s":"Frame","t":29,"v":4.89},{"s":"Frame","t":29.3,"v":4.98},{"s":"Frame","t":29.6,"v":5.18},{"s":"Frame","t":29.9,"v":5.34},{"s":"Frame","t":30.2,"v":5.38},{"s":"Frame","t":30.5,"v":5.34},{"s":"Frame","t":30.8,"v":5.3},{"s":"Frame","t":31.1,"v":5.26},{"s":"Frame","t":31.4,"v":5.21},{"s":"Frame","t":31.7,"v":5.12},{"s":"Frame","t":32,"v":5.06},{"s":"Frame","t":32.3,"v":5.02},{"s":"Frame","t":32.6,"v":5.08},{"s":"Frame","t":32.9,"v":5.3},{"s":"Frame","t":33.2,"v":5.5},{"s":"Frame","t":33.5,"v":5.62},{"s":"Frame","t":33.8,"v":5.66},{"s":"Frame","t":34.1,"v":5.54},{"s":"Frame","t":34.4,"v":5.34},{"s":"Frame","t":34.7,"v":5.18},{"s":"Frame","t":35,"v":5.13},{"s":"Frame","t":35.3,"v":5.22},{"s":"Frame","t":35.7,"v":5.36},{"s":"Frame","t":36,"v":5.5},{"s":"Frame","t":36.3,"v":5.66},{"s":"Frame","t":36.6,"v":5.76},{"s":"Frame","t":36.8,"v":5.79},{"s":"Frame","t":37.1,"v":5.7},{"s":"Frame","t":37.4,"v":5.54},{"s":"Frame","t":37.8,"v":5.38},{"s":"Frame","t":38.1,"v":5.36},{"s":"Frame","t":38.4,"v":5.5},{"s":"Frame","t":38.7,"v":5.58},{"s":"Frame","t":39,"v":5.47},{"s":"Frame","t":39.3,"v":5.54},{"s":"Frame","t":39.6,"v":5.58},{"s":"Frame","t":39.8,"v":5.5},{"s":"Frame","t":40,"v":5.47},
{"s":"BRB","t":0,"v":0},{"s":"BRB","t":3,"v":0.01},{"s":"BRB","t":4.5,"v":0.03},{"s":"BRB","t":5.5,"v":0.015},{"s":"BRB","t":6.5,"v":0.015},{"s":"BRB","t":7,"v":0.03},{"s":"BRB","t":7.5,"v":0.08},{"s":"BRB","t":8,"v":0.2},{"s":"BRB","t":8.5,"v":0.32},{"s":"BRB","t":8.8,"v":0.36},{"s":"BRB","t":9.1,"v":0.55},{"s":"BRB","t":9.4,"v":0.75},{"s":"BRB","t":9.7,"v":0.73},{"s":"BRB","t":10,"v":0.67},{"s":"BRB","t":10.3,"v":0.75},{"s":"BRB","t":10.6,"v":0.91},{"s":"BRB","t":10.9,"v":1.19},{"s":"BRB","t":11.2,"v":1.5},{"s":"BRB","t":11.5,"v":1.82},{"s":"BRB","t":11.8,"v":2.02},{"s":"BRB","t":12.1,"v":2.07},{"s":"BRB","t":12.4,"v":2.31},{"s":"BRB","t":12.7,"v":2.25},{"s":"BRB","t":13.1,"v":2.2},{"s":"BRB","t":13.5,"v":2.18},{"s":"BRB","t":13.9,"v":2.2},{"s":"BRB","t":14.2,"v":2.29},{"s":"BRB","t":14.5,"v":2.57},{"s":"BRB","t":14.8,"v":3.16},{"s":"BRB","t":15.1,"v":3.68},{"s":"BRB","t":15.4,"v":3.88},{"s":"BRB","t":15.7,"v":3.94},{"s":"BRB","t":16,"v":3.96},{"s":"BRB","t":16.3,"v":3.88},{"s":"BRB","t":16.6,"v":3.78},{"s":"BRB","t":16.9,"v":3.73},{"s":"BRB","t":17.2,"v":3.84},{"s":"BRB","t":17.5,"v":4},{"s":"BRB","t":17.9,"v":4.13},{"s":"BRB","t":18.3,"v":4.15},{"s":"BRB","t":18.7,"v":4.21},{"s":"BRB","t":19,"v":4.15},{"s":"BRB","t":19.4,"v":4.1},{"s":"BRB","t":19.7,"v":4.11},{"s":"BRB","t":20,"v":4.23},{"s":"BRB","t":20.4,"v":4.39},{"s":"BRB","t":20.8,"v":4.45},{"s":"BRB","t":21.1,"v":4.46},{"s":"BRB","t":21.4,"v":4.39},{"s":"BRB","t":21.7,"v":4.35},{"s":"BRB","t":22.1,"v":4.43},{"s":"BRB","t":22.5,"v":4.49},{"s":"BRB","t":22.9,"v":4.53},{"s":"BRB","t":23.2,"v":4.57},{"s":"BRB","t":23.6,"v":4.51},{"s":"BRB","t":24,"v":4.51},{"s":"BRB","t":24.4,"v":4.57},{"s":"BRB","t":24.8,"v":4.63},{"s":"BRB","t":25.1,"v":4.68},{"s":"BRB","t":25.5,"v":4.67},{"s":"BRB","t":25.9,"v":4.6},{"s":"BRB","t":26.3,"v":4.6},{"s":"BRB","t":26.7,"v":4.71},{"s":"BRB","t":27.1,"v":4.81},{"s":"BRB","t":27.5,"v":4.89},{"s":"BRB","t":27.9,"v":4.89},{"s":"BRB","t":28.2,"v":4.79},{"s":"BRB","t":28.6,"v":4.76},{"s":"BRB","t":29,"v":4.83},{"s":"BRB","t":29.4,"v":4.89},{"s":"BRB","t":29.8,"v":4.92},{"s":"BRB","t":30.2,"v":4.94},{"s":"BRB","t":30.6,"v":5},{"s":"BRB","t":30.9,"v":5.02},{"s":"BRB","t":31.2,"v":4.97},{"s":"BRB","t":31.6,"v":4.92},{"s":"BRB","t":32,"v":4.92},{"s":"BRB","t":32.4,"v":4.97},{"s":"BRB","t":32.8,"v":5.02},{"s":"BRB","t":33.2,"v":5.08},{"s":"BRB","t":33.5,"v":5.14},{"s":"BRB","t":33.8,"v":5.18},{"s":"BRB","t":34.1,"v":5.12},{"s":"BRB","t":34.5,"v":5.06},{"s":"BRB","t":34.9,"v":5.06},{"s":"BRB","t":35.3,"v":5.08},{"s":"BRB","t":35.7,"v":5.14},{"s":"BRB","t":36,"v":5.26},{"s":"BRB","t":36.3,"v":5.38},{"s":"BRB","t":36.6,"v":5.44},{"s":"BRB","t":36.9,"v":5.36},{"s":"BRB","t":37.3,"v":5.31},{"s":"BRB","t":37.7,"v":5.3},{"s":"BRB","t":38,"v":5.36},{"s":"BRB","t":38.4,"v":5.36},{"s":"BRB","t":38.7,"v":5.38},{"s":"BRB","t":39,"v":5.38},{"s":"BRB","t":39.3,"v":5.42},{"s":"BRB","t":39.6,"v":5.47},{"s":"BRB","t":40,"v":5.42}
],
"dP": [{"s":"50.2%","t":40,"v":5.47},{"s":"49.8%","t":40,"v":5.42}]
},
"vconcat": [
{
"spacing": 321,
"resolve": {"scale": {"x": "independent", "y": "independent", "color": "independent", "shape": "independent", "size": "independent"}, "legend": {"color": "independent", "shape": "independent", "size": "independent"}},
"hconcat": [
{
 "width": 1145, "height": 857,
 "resolve": {"axis": {"x": "independent", "y": "independent"}},
 "layer": [
  {"data": {"name": "aL"}, "mark": {"type": "line", "strokeWidth": 4, "strokeJoin": "round"},
   "encoding": {
    "x": {"field": "t", "type": "quantitative", "scale": {"domain": [0, 40], "nice": false, "zero": false}, "axis": {"orient": "bottom", "values": [0, 10, 20, 30, 40], "title": "Time (s)", "grid": true, "gridDash": [12, 833, 12, 10000]}},
    "y": {"field": "v", "type": "quantitative", "scale": {"domain": [0, 2.5], "nice": false}, "axis": {"orient": "left", "values": [0, 0.5, 1, 1.5, 2, 2.5], "format": ".1~f", "title": "Energy(J)", "titlePadding": 37, "grid": true, "gridDash": [12, 1121, 12, 10000]}},
    "color": {"field": "s", "type": "nominal", "scale": {"domain": ["Input", "Damping", "Components", "Kinetic", "40.4%", "58.3%", "1.3%"], "range": ["#000000", "#0000ff", "#ff0000", "#ff00ff", "#0000ff", "#ff0000", "#ff00ff"]},
     "legend": {"title": null, "orient": "none", "legendX": 44, "legendY": 10}}
   }},
  {"data": {"name": "aP"}, "mark": {"type": "point", "filled": true, "opacity": 1},
   "encoding": {
    "x": {"field": "t", "type": "quantitative", "scale": {"domain": [0, 40], "nice": false, "zero": false}, "axis": null},
    "y": {"field": "v", "type": "quantitative", "scale": {"domain": [0, 2.5], "nice": false}, "axis": null},
    "color": {"field": "s", "type": "nominal"},
    "shape": {"field": "s", "type": "nominal", "scale": {"domain": ["Input", "Damping", "Components", "Kinetic", "40.4%", "58.3%", "1.3%"], "range": ["stroke", "stroke", "stroke", "stroke", "circle", "circle", "circle"]}},
    "size": {"field": "s", "type": "nominal", "scale": {"type": "ordinal", "domain": ["Input", "Damping", "Components", "Kinetic", "40.4%", "58.3%", "1.3%"], "range": [2704, 2704, 2704, 2704, 170, 170, 170]}}
   }},
  {"data": {"values": [{}]}, "mark": {"type": "text", "text": "×10", "align": "left", "baseline": "alphabetic", "dy": -5, "fontSize": 58, "font": "Liberation Serif", "color": "#262626"},
   "encoding": {"x": {"datum": 0, "type": "quantitative", "axis": null}, "y": {"datum": 2.5, "type": "quantitative", "axis": null}}},
  {"data": {"values": [{}]}, "mark": {"type": "text", "text": "8", "align": "left", "baseline": "alphabetic", "dx": 97, "dy": -31, "fontSize": 37, "font": "Liberation Serif", "color": "#262626"},
   "encoding": {"x": {"datum": 0, "type": "quantitative", "axis": null}, "y": {"datum": 2.5, "type": "quantitative", "axis": null}}},
  {"data": {"values": [{}]}, "mark": {"type": "text", "text": "(a)", "align": "left", "baseline": "middle", "dx": -140, "dy": 107, "fontSize": 74, "font": "Liberation Serif", "color": "black"},
   "encoding": {"x": {"datum": 0, "type": "quantitative", "axis": null}, "y": {"datum": 0, "type": "quantitative", "axis": null}}}
 ]
},
{
 "width": 1146, "height": 858,
 "resolve": {"axis": {"x": "independent", "y": "independent"}},
 "layer": [
  {"data": {"name": "bL"}, "mark": {"type": "line", "strokeWidth": 4, "strokeJoin": "round"},
   "encoding": {
    "x": {"field": "t", "type": "quantitative", "scale": {"domain": [0, 40], "nice": false, "zero": false}, "axis": {"orient": "bottom", "values": [0, 10, 20, 30, 40], "title": "Time (s)", "grid": true, "gridDash": [12, 834, 12, 10000]}},
    "y": {"field": "v", "type": "quantitative", "scale": {"domain": [0, 12], "nice": false}, "axis": {"orient": "left", "values": [0, 2, 4, 6, 8, 10, 12], "title": "Energy (J)", "titlePadding": 7, "grid": true, "gridDash": [12, 1122, 12, 10000]}},
    "color": {"field": "s", "type": "nominal", "scale": {"domain": ["Components", "Frame", "BRB", "VED", "49.8%", "45.1%", "5.1%"], "range": ["#000000", "#0000ff", "#ff0000", "#ff00ff", "#0000ff", "#ff0000", "#ff00ff"]},
     "legend": {"title": null, "orient": "none", "legendX": 52, "legendY": 17}}
   }},
  {"data": {"name": "bP"}, "mark": {"type": "point", "filled": true, "opacity": 1},
   "encoding": {
    "x": {"field": "t", "type": "quantitative", "scale": {"domain": [0, 40], "nice": false, "zero": false}, "axis": null},
    "y": {"field": "v", "type": "quantitative", "scale": {"domain": [0, 12], "nice": false}, "axis": null},
    "color": {"field": "s", "type": "nominal"},
    "shape": {"field": "s", "type": "nominal", "scale": {"domain": ["Components", "Frame", "BRB", "VED", "49.8%", "45.1%", "5.1%"], "range": ["stroke", "stroke", "stroke", "stroke", "circle", "circle", "circle"]}},
    "size": {"field": "s", "type": "nominal", "scale": {"type": "ordinal", "domain": ["Components", "Frame", "BRB", "VED", "49.8%", "45.1%", "5.1%"], "range": [2704, 2704, 2704, 2704, 170, 170, 170]}}
   }},
  {"data": {"values": [{}]}, "mark": {"type": "text", "text": "×10", "align": "left", "baseline": "alphabetic", "dy": -5, "fontSize": 58, "font": "Liberation Serif", "color": "#262626"},
   "encoding": {"x": {"datum": 0, "type": "quantitative", "axis": null}, "y": {"datum": 12, "type": "quantitative", "axis": null}}},
  {"data": {"values": [{}]}, "mark": {"type": "text", "text": "7", "align": "left", "baseline": "alphabetic", "dx": 97, "dy": -31, "fontSize": 37, "font": "Liberation Serif", "color": "#262626"},
   "encoding": {"x": {"datum": 0, "type": "quantitative", "axis": null}, "y": {"datum": 12, "type": "quantitative", "axis": null}}},
  {"data": {"values": [{}]}, "mark": {"type": "text", "text": "(b)", "align": "left", "baseline": "middle", "dx": -126, "dy": 110, "fontSize": 74, "font": "Liberation Serif", "color": "black"},
   "encoding": {"x": {"datum": 0, "type": "quantitative", "axis": null}, "y": {"datum": 0, "type": "quantitative", "axis": null}}}
 ]
}
]
},
{
"spacing": 313,
"resolve": {"scale": {"x": "independent", "y": "independent", "color": "independent", "shape": "independent", "size": "independent"}, "legend": {"color": "independent", "shape": "independent", "size": "independent"}},
"hconcat": [
{
 "width": 1155, "height": 866,
 "resolve": {"axis": {"x": "independent", "y": "independent"}},
 "layer": [
  {"data": {"name": "cL"}, "mark": {"type": "line", "strokeWidth": 4, "strokeJoin": "round"},
   "encoding": {
    "x": {"field": "t", "type": "quantitative", "scale": {"domain": [0, 40], "nice": false, "zero": false}, "axis": {"orient": "bottom", "values": [0, 10, 20, 30, 40], "title": "Time (s)", "grid": true, "gridDash": [12, 842, 12, 10000]}},
    "y": {"field": "v", "type": "quantitative", "scale": {"domain": [0, 2], "nice": false}, "axis": {"orient": "left", "values": [0, 0.5, 1, 1.5, 2], "format": ".1~f", "title": "Energy (J)", "titlePadding": 19, "grid": true, "gridDash": [12, 1131, 12, 10000]}},
    "color": {"field": "s", "type": "nominal", "scale": {"domain": ["Input", "Damping", "Components", "Kinetic", "40.7%", "58.1%", "1.2%"], "range": ["#000000", "#0000ff", "#ff0000", "#ff00ff", "#0000ff", "#ff0000", "#ff00ff"]},
     "legend": {"title": null, "orient": "none", "legendX": 47, "legendY": 11}}
   }},
  {"data": {"name": "cP"}, "mark": {"type": "point", "filled": true, "opacity": 1},
   "encoding": {
    "x": {"field": "t", "type": "quantitative", "scale": {"domain": [0, 40], "nice": false, "zero": false}, "axis": null},
    "y": {"field": "v", "type": "quantitative", "scale": {"domain": [0, 2], "nice": false}, "axis": null},
    "color": {"field": "s", "type": "nominal"},
    "shape": {"field": "s", "type": "nominal", "scale": {"domain": ["Input", "Damping", "Components", "Kinetic", "40.7%", "58.1%", "1.2%"], "range": ["stroke", "stroke", "stroke", "stroke", "circle", "circle", "circle"]}},
    "size": {"field": "s", "type": "nominal", "scale": {"type": "ordinal", "domain": ["Input", "Damping", "Components", "Kinetic", "40.7%", "58.1%", "1.2%"], "range": [2704, 2704, 2704, 2704, 170, 170, 170]}}
   }},
  {"data": {"values": [{}]}, "mark": {"type": "text", "text": "×10", "align": "left", "baseline": "alphabetic", "dy": -5, "fontSize": 58, "font": "Liberation Serif", "color": "#262626"},
   "encoding": {"x": {"datum": 0, "type": "quantitative", "axis": null}, "y": {"datum": 2, "type": "quantitative", "axis": null}}},
  {"data": {"values": [{}]}, "mark": {"type": "text", "text": "8", "align": "left", "baseline": "alphabetic", "dx": 97, "dy": -31, "fontSize": 37, "font": "Liberation Serif", "color": "#262626"},
   "encoding": {"x": {"datum": 0, "type": "quantitative", "axis": null}, "y": {"datum": 2, "type": "quantitative", "axis": null}}},
  {"data": {"values": [{}]}, "mark": {"type": "text", "text": "(c)", "align": "left", "baseline": "middle", "dx": -124, "dy": 127, "fontSize": 74, "font": "Liberation Serif", "color": "black"},
   "encoding": {"x": {"datum": 0, "type": "quantitative", "axis": null}, "y": {"datum": 0, "type": "quantitative", "axis": null}}}
 ]
},
{
 "width": 1162, "height": 871,
 "resolve": {"axis": {"x": "independent", "y": "independent"}},
 "layer": [
  {"data": {"name": "dL"}, "mark": {"type": "line", "strokeWidth": 4, "strokeJoin": "round"},
   "encoding": {
    "x": {"field": "t", "type": "quantitative", "scale": {"domain": [0, 40], "nice": false, "zero": false}, "axis": {"orient": "bottom", "values": [0, 10, 20, 30, 40], "title": "Time (s)", "grid": true, "gridDash": [12, 847, 12, 10000]}},
    "y": {"field": "v", "type": "quantitative", "scale": {"domain": [0, 12], "nice": false}, "axis": {"orient": "left", "values": [0, 2, 4, 6, 8, 10, 12], "title": "Energy (J)", "titlePadding": 3, "grid": true, "gridDash": [12, 1138, 12, 10000]}},
    "color": {"field": "s", "type": "nominal", "scale": {"domain": ["Components", "Frame", "BRB", "50.2%", "49.8%"], "range": ["#000000", "#0000ff", "#ff0000", "#0000ff", "#ff0000"]},
     "legend": {"title": null, "orient": "none", "legendX": 51, "legendY": 10}}
   }},
  {"data": {"name": "dP"}, "mark": {"type": "point", "filled": true, "opacity": 1},
   "encoding": {
    "x": {"field": "t", "type": "quantitative", "scale": {"domain": [0, 40], "nice": false, "zero": false}, "axis": null},
    "y": {"field": "v", "type": "quantitative", "scale": {"domain": [0, 12], "nice": false}, "axis": null},
    "color": {"field": "s", "type": "nominal"},
    "shape": {"field": "s", "type": "nominal", "scale": {"domain": ["Components", "Frame", "BRB", "50.2%", "49.8%"], "range": ["stroke", "stroke", "stroke", "circle", "circle"]}},
    "size": {"field": "s", "type": "nominal", "scale": {"type": "ordinal", "domain": ["Components", "Frame", "BRB", "50.2%", "49.8%"], "range": [2704, 2704, 2704, 170, 170]}}
   }},
  {"data": {"values": [{}]}, "mark": {"type": "text", "text": "×10", "align": "left", "baseline": "alphabetic", "dy": -5, "fontSize": 58, "font": "Liberation Serif", "color": "#262626"},
   "encoding": {"x": {"datum": 0, "type": "quantitative", "axis": null}, "y": {"datum": 12, "type": "quantitative", "axis": null}}},
  {"data": {"values": [{}]}, "mark": {"type": "text", "text": "7", "align": "left", "baseline": "alphabetic", "dx": 97, "dy": -31, "fontSize": 37, "font": "Liberation Serif", "color": "#262626"},
   "encoding": {"x": {"datum": 0, "type": "quantitative", "axis": null}, "y": {"datum": 12, "type": "quantitative", "axis": null}}},
  {"data": {"values": [{}]}, "mark": {"type": "text", "text": "(d)", "align": "left", "baseline": "middle", "dx": -120, "dy": 112, "fontSize": 74, "font": "Liberation Serif", "color": "black"},
   "encoding": {"x": {"datum": 0, "type": "quantitative", "axis": null}, "y": {"datum": 0, "type": "quantitative", "axis": null}}}
 ]
}
]
}
]
}
